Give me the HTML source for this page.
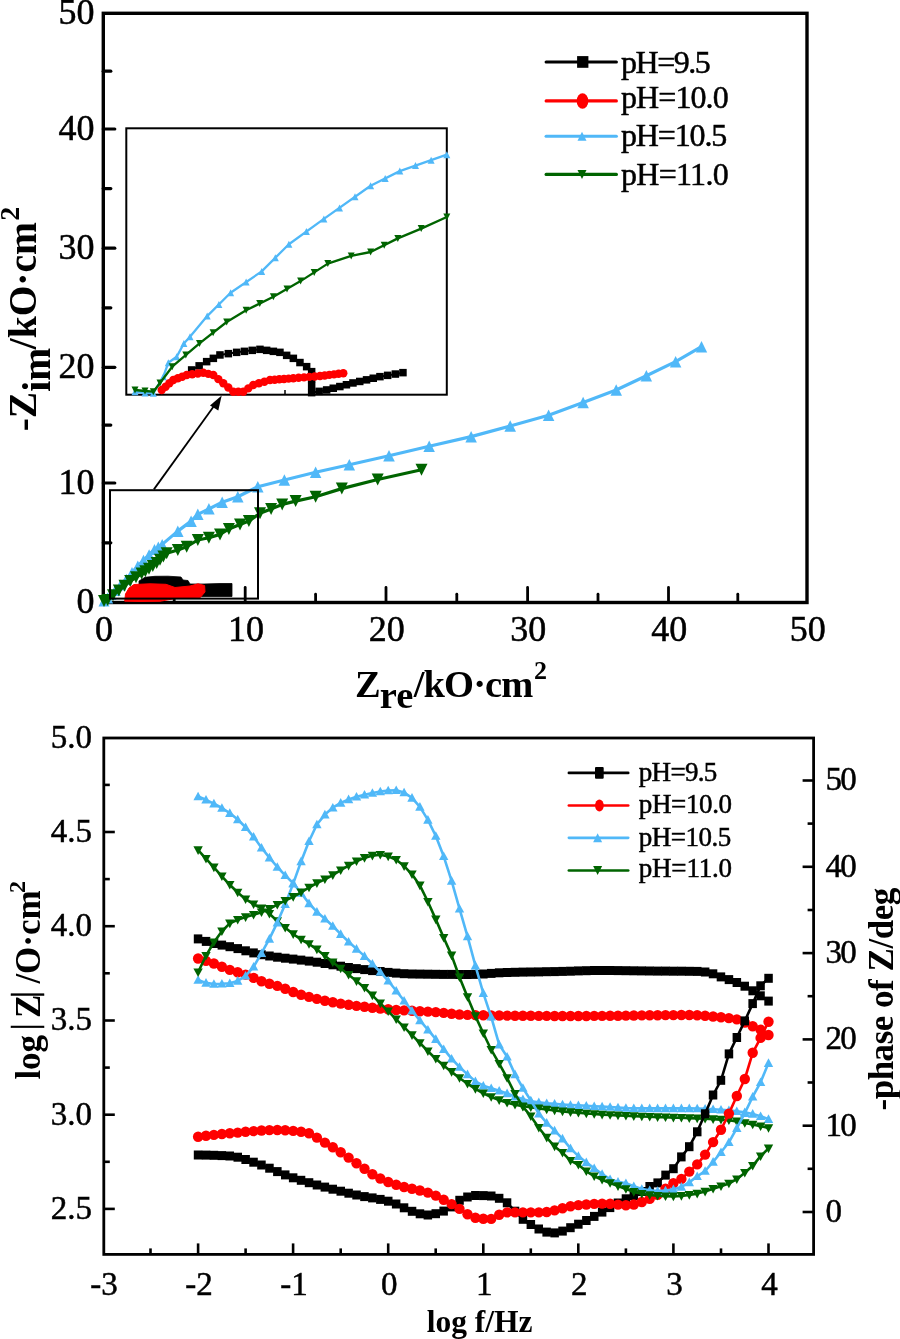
<!DOCTYPE html>
<html><head><meta charset="utf-8"><style>
html,body{margin:0;padding:0;background:#fff;width:900px;height:1339px;overflow:hidden}
svg{display:block;will-change:transform}
.s{font-family:"Liberation Serif",serif;font-weight:normal;stroke:#000;stroke-width:0.5px}
.b{font-family:"Liberation Serif",serif;font-weight:bold}
</style></head><body>
<svg width="900" height="1339" viewBox="0 0 900 1339">
<rect width="900" height="1339" fill="#fff"/>
<rect x="103.3" y="13.3" width="703.7" height="589.2" fill="none" stroke="#000" stroke-width="3.4"/>
<line x1="103.3" y1="542.8" x2="110.8" y2="542.8" stroke="#000" stroke-width="3.2" stroke-linecap="round"/>
<line x1="103.3" y1="483.0" x2="114.8" y2="483.0" stroke="#000" stroke-width="3.2" stroke-linecap="round"/>
<line x1="103.3" y1="425.1" x2="110.8" y2="425.1" stroke="#000" stroke-width="3.2" stroke-linecap="round"/>
<line x1="103.3" y1="367.3" x2="114.8" y2="367.3" stroke="#000" stroke-width="3.2" stroke-linecap="round"/>
<line x1="103.3" y1="307.8" x2="110.8" y2="307.8" stroke="#000" stroke-width="3.2" stroke-linecap="round"/>
<line x1="103.3" y1="248.2" x2="114.8" y2="248.2" stroke="#000" stroke-width="3.2" stroke-linecap="round"/>
<line x1="103.3" y1="188.6" x2="110.8" y2="188.6" stroke="#000" stroke-width="3.2" stroke-linecap="round"/>
<line x1="103.3" y1="129.0" x2="114.8" y2="129.0" stroke="#000" stroke-width="3.2" stroke-linecap="round"/>
<line x1="103.3" y1="71.2" x2="110.8" y2="71.2" stroke="#000" stroke-width="3.2" stroke-linecap="round"/>
<line x1="174.2" y1="602.5" x2="174.2" y2="594.2" stroke="#000" stroke-width="2.8" stroke-linecap="round"/>
<line x1="245.2" y1="602.5" x2="245.2" y2="587.5" stroke="#000" stroke-width="2.8" stroke-linecap="round"/>
<line x1="315.6" y1="602.5" x2="315.6" y2="594.2" stroke="#000" stroke-width="2.8" stroke-linecap="round"/>
<line x1="386.0" y1="602.5" x2="386.0" y2="587.5" stroke="#000" stroke-width="2.8" stroke-linecap="round"/>
<line x1="456.8" y1="602.5" x2="456.8" y2="594.2" stroke="#000" stroke-width="2.8" stroke-linecap="round"/>
<line x1="527.6" y1="602.5" x2="527.6" y2="587.5" stroke="#000" stroke-width="2.8" stroke-linecap="round"/>
<line x1="598.0" y1="602.5" x2="598.0" y2="594.2" stroke="#000" stroke-width="2.8" stroke-linecap="round"/>
<line x1="668.5" y1="602.5" x2="668.5" y2="587.5" stroke="#000" stroke-width="2.8" stroke-linecap="round"/>
<line x1="737.8" y1="602.5" x2="737.8" y2="594.2" stroke="#000" stroke-width="2.8" stroke-linecap="round"/>
<text x="94.6" y="613.3" text-anchor="end" class="s" font-size="36">0</text>
<text x="94.6" y="493.8" text-anchor="end" class="s" font-size="36">10</text>
<text x="94.6" y="378.1" text-anchor="end" class="s" font-size="36">20</text>
<text x="94.6" y="259.0" text-anchor="end" class="s" font-size="36">30</text>
<text x="94.6" y="139.8" text-anchor="end" class="s" font-size="36">40</text>
<text x="94.6" y="24.1" text-anchor="end" class="s" font-size="36">50</text>
<text x="104.0" y="641.3" text-anchor="middle" class="s" font-size="36">0</text>
<text x="245.9" y="641.3" text-anchor="middle" class="s" font-size="36">10</text>
<text x="386.7" y="641.3" text-anchor="middle" class="s" font-size="36">20</text>
<text x="528.3" y="641.3" text-anchor="middle" class="s" font-size="36">30</text>
<text x="669.2" y="641.3" text-anchor="middle" class="s" font-size="36">40</text>
<text x="807.7" y="641.3" text-anchor="middle" class="s" font-size="36">50</text>
<text transform="translate(35.8,431.3) rotate(-90)" class="b" font-size="39.5"><tspan x="0" y="0">-Z</tspan><tspan x="39.6" y="13.9">im</tspan><tspan x="82" y="0">/kO·cm</tspan><tspan x="210.5" y="-16.8" font-size="28">2</tspan></text>
<text class="b" font-size="38.5"><tspan x="354.9" y="697.2">Z</tspan><tspan x="379.8" y="707.8">re</tspan><tspan x="413.8" y="697.2" letter-spacing="-0.9">/kO·cm</tspan><tspan x="533.9" y="679.3" font-size="26">2</tspan></text>
<path d="M104.0,601.0 L107.6,598.1 L111.0,594.5 L115.1,590.6 L120.5,585.0 L126.4,579.2 L132.0,572.5 L137.8,566.0 L143.5,560.3 L149.1,554.7 L154.5,549.5 L162.2,544.4 L177.8,531.1 L191.1,521.1 L197.8,514.4 L208.9,508.9 L222.2,502.2 L237.8,496.7 L257.8,486.7 L284.4,480.0 L315.6,472.2 L349.3,464.8 L389.0,455.7 L429.2,446.2 L471.1,436.6 L510.2,426.0 L548.6,415.3 L583.1,402.5 L616.2,390.0 L646.4,375.8 L675.6,361.6 L701.5,346.7" fill="none" stroke="#50b8f8" stroke-width="3.2" stroke-linejoin="round" stroke-linecap="round" />
<path d="M104.0,595.5 L109.5,606.5 L98.5,606.5Z" fill="#50b8f8"/>
<path d="M107.6,592.6 L113.1,603.6 L102.1,603.6Z" fill="#50b8f8"/>
<path d="M111.0,589.0 L116.5,600.0 L105.5,600.0Z" fill="#50b8f8"/>
<path d="M115.1,585.1 L120.6,596.1 L109.6,596.1Z" fill="#50b8f8"/>
<path d="M120.5,579.5 L126.0,590.5 L115.0,590.5Z" fill="#50b8f8"/>
<path d="M126.4,573.7 L131.9,584.7 L120.9,584.7Z" fill="#50b8f8"/>
<path d="M132.0,567.0 L137.5,578.0 L126.5,578.0Z" fill="#50b8f8"/>
<path d="M137.8,560.5 L143.3,571.5 L132.3,571.5Z" fill="#50b8f8"/>
<path d="M143.5,554.8 L149.0,565.8 L138.0,565.8Z" fill="#50b8f8"/>
<path d="M149.1,549.2 L154.6,560.2 L143.6,560.2Z" fill="#50b8f8"/>
<path d="M154.5,544.0 L160.0,555.0 L149.0,555.0Z" fill="#50b8f8"/>
<path d="M158.3,541.5 L163.8,552.5 L152.8,552.5Z" fill="#50b8f8"/>
<path d="M162.2,538.9 L167.7,549.9 L156.7,549.9Z" fill="#50b8f8"/>
<path d="M177.8,525.4 L183.6,536.9 L172.1,536.9Z" fill="#50b8f8"/>
<path d="M191.1,515.4 L196.8,526.9 L185.3,526.9Z" fill="#50b8f8"/>
<path d="M197.8,508.6 L203.6,520.1 L192.1,520.1Z" fill="#50b8f8"/>
<path d="M208.9,503.1 L214.7,514.6 L203.2,514.6Z" fill="#50b8f8"/>
<path d="M222.2,496.4 L227.9,507.9 L216.4,507.9Z" fill="#50b8f8"/>
<path d="M237.8,490.9 L243.6,502.4 L232.1,502.4Z" fill="#50b8f8"/>
<path d="M257.8,480.9 L263.6,492.4 L252.1,492.4Z" fill="#50b8f8"/>
<path d="M284.4,474.2 L290.1,485.8 L278.6,485.8Z" fill="#50b8f8"/>
<path d="M315.6,466.4 L321.4,477.9 L309.9,477.9Z" fill="#50b8f8"/>
<path d="M349.3,459.1 L355.1,470.6 L343.6,470.6Z" fill="#50b8f8"/>
<path d="M389.0,449.9 L394.8,461.4 L383.2,461.4Z" fill="#50b8f8"/>
<path d="M429.2,440.4 L434.9,451.9 L423.4,451.9Z" fill="#50b8f8"/>
<path d="M471.1,430.9 L476.9,442.4 L465.4,442.4Z" fill="#50b8f8"/>
<path d="M510.2,420.2 L516.0,431.8 L504.4,431.8Z" fill="#50b8f8"/>
<path d="M548.6,409.6 L554.4,421.1 L542.9,421.1Z" fill="#50b8f8"/>
<path d="M583.1,396.8 L588.9,408.2 L577.4,408.2Z" fill="#50b8f8"/>
<path d="M616.2,384.2 L622.0,395.8 L610.5,395.8Z" fill="#50b8f8"/>
<path d="M646.4,370.1 L652.1,381.6 L640.6,381.6Z" fill="#50b8f8"/>
<path d="M675.6,355.9 L681.4,367.4 L669.9,367.4Z" fill="#50b8f8"/>
<path d="M701.5,340.9 L707.2,352.4 L695.8,352.4Z" fill="#50b8f8"/>
<path d="M104.0,601.0 L107.6,600.0 L113.0,595.3 L118.9,590.6 L124.5,585.8 L130.2,581.1 L136.0,577.3 L141.6,573.6 L149.0,568.8 L156.7,563.0 L166.7,553.3 L177.8,550.0 L186.7,546.7 L197.8,540.0 L208.9,537.8 L220.0,534.4 L228.9,528.9 L240.0,524.4 L248.9,521.1 L260.0,513.3 L271.1,508.9 L282.2,504.4 L295.6,501.1 L315.6,496.7 L341.8,488.6 L377.7,479.5 L421.5,469.8" fill="none" stroke="#006400" stroke-width="3.2" stroke-linejoin="round" stroke-linecap="round" />
<path d="M98.0,595.0 L110.0,595.0 L104.0,607.0Z" fill="#006400"/>
<path d="M101.6,594.0 L113.6,594.0 L107.6,606.0Z" fill="#006400"/>
<path d="M107.0,589.3 L119.0,589.3 L113.0,601.3Z" fill="#006400"/>
<path d="M112.9,584.6 L124.9,584.6 L118.9,596.6Z" fill="#006400"/>
<path d="M118.5,579.8 L130.5,579.8 L124.5,591.8Z" fill="#006400"/>
<path d="M124.2,575.1 L136.2,575.1 L130.2,587.1Z" fill="#006400"/>
<path d="M130.0,571.3 L142.0,571.3 L136.0,583.3Z" fill="#006400"/>
<path d="M135.6,567.6 L147.6,567.6 L141.6,579.6Z" fill="#006400"/>
<path d="M139.3,565.2 L151.3,565.2 L145.3,577.2Z" fill="#006400"/>
<path d="M143.0,562.8 L155.0,562.8 L149.0,574.8Z" fill="#006400"/>
<path d="M146.8,559.9 L158.8,559.9 L152.8,571.9Z" fill="#006400"/>
<path d="M150.7,557.0 L162.7,557.0 L156.7,569.0Z" fill="#006400"/>
<path d="M154.0,553.8 L166.0,553.8 L160.0,565.8Z" fill="#006400"/>
<path d="M157.4,550.5 L169.4,550.5 L163.4,562.5Z" fill="#006400"/>
<path d="M160.7,547.3 L172.7,547.3 L166.7,559.3Z" fill="#006400"/>
<path d="M171.8,544.0 L183.8,544.0 L177.8,556.0Z" fill="#006400"/>
<path d="M180.7,540.7 L192.7,540.7 L186.7,552.7Z" fill="#006400"/>
<path d="M191.8,534.0 L203.8,534.0 L197.8,546.0Z" fill="#006400"/>
<path d="M202.9,531.8 L214.9,531.8 L208.9,543.8Z" fill="#006400"/>
<path d="M214.0,528.4 L226.0,528.4 L220.0,540.4Z" fill="#006400"/>
<path d="M222.9,522.9 L234.9,522.9 L228.9,534.9Z" fill="#006400"/>
<path d="M234.0,518.4 L246.0,518.4 L240.0,530.4Z" fill="#006400"/>
<path d="M242.9,515.1 L254.9,515.1 L248.9,527.1Z" fill="#006400"/>
<path d="M254.0,507.3 L266.0,507.3 L260.0,519.3Z" fill="#006400"/>
<path d="M265.1,502.9 L277.1,502.9 L271.1,514.9Z" fill="#006400"/>
<path d="M276.2,498.4 L288.2,498.4 L282.2,510.4Z" fill="#006400"/>
<path d="M289.6,495.1 L301.6,495.1 L295.6,507.1Z" fill="#006400"/>
<path d="M309.6,490.7 L321.6,490.7 L315.6,502.7Z" fill="#006400"/>
<path d="M335.8,482.6 L347.8,482.6 L341.8,494.6Z" fill="#006400"/>
<path d="M371.7,473.5 L383.7,473.5 L377.7,485.5Z" fill="#006400"/>
<path d="M415.5,463.8 L427.5,463.8 L421.5,475.8Z" fill="#006400"/>
<path d="M139,581 L145,577.3 L155,576.3 L168,576.2 L181,577 L183,580 L188,580.5 L190,584 L204,584 L220,583.5 L232,583.5 L232,596.5 L205,596.5 L190,597 L186,590 L160,588.5 L139,588 Z" fill="#000" stroke="#000" stroke-width="0.8" stroke-linejoin="round"/>
<path d="M124.7,601.2 L125.5,594 L129,588 L134,584.5 L150,583.8 L166,584.3 L175,587.5 L190,586 L198,583.8 L204.6,585.5 L205,592 L200,597.8 L175,598.5 L160,601.3 L140,601.5 Z" fill="#f00" stroke="#f00" stroke-width="1" stroke-linejoin="round"/>
<rect x="126.3" y="128.3" width="320.5" height="266.4" fill="none" stroke="#000" stroke-width="2"/>
<line x1="285" y1="394.7" x2="285" y2="390" stroke="#000" stroke-width="1.5"/>
<rect x="110" y="490.2" width="148" height="108.4" fill="none" stroke="#000" stroke-width="2"/>
<line x1="153.9" y1="489.4" x2="214" y2="406" stroke="#000" stroke-width="1.8"/>
<path d="M221.7,395.6 L210,405.6 L218.3,410.6 Z" fill="#000"/>
<path d="M135.0,391.7 L145.0,393.0 L153.3,393.3 L163.3,376.7 L168.3,362.8 L176.7,356.7 L183.9,343.4 L190.0,336.7 L207.2,316.1 L230.6,292.8 L261.7,271.4 L288.9,244.2 L323.9,218.9 L370.6,185.8 L399.8,171.1 L446.8,154.7" fill="none" stroke="#50b8f8" stroke-width="2.3" stroke-linejoin="round" stroke-linecap="round" />
<path d="M135.0,388.2 L138.5,395.2 L131.5,395.2Z" fill="#50b8f8"/>
<path d="M145.0,389.5 L148.5,396.5 L141.5,396.5Z" fill="#50b8f8"/>
<path d="M153.3,389.8 L156.8,396.8 L149.8,396.8Z" fill="#50b8f8"/>
<path d="M163.3,373.2 L166.8,380.2 L159.8,380.2Z" fill="#50b8f8"/>
<path d="M168.3,359.3 L171.8,366.3 L164.8,366.3Z" fill="#50b8f8"/>
<path d="M176.7,353.2 L180.2,360.2 L173.2,360.2Z" fill="#50b8f8"/>
<path d="M183.9,339.9 L187.4,346.9 L180.4,346.9Z" fill="#50b8f8"/>
<path d="M190.0,333.2 L193.5,340.2 L186.5,340.2Z" fill="#50b8f8"/>
<path d="M207.2,312.6 L210.7,319.6 L203.7,319.6Z" fill="#50b8f8"/>
<path d="M218.9,301.0 L222.4,308.0 L215.4,308.0Z" fill="#50b8f8"/>
<path d="M230.6,289.3 L234.1,296.3 L227.1,296.3Z" fill="#50b8f8"/>
<path d="M246.1,278.6 L249.6,285.6 L242.6,285.6Z" fill="#50b8f8"/>
<path d="M261.7,267.9 L265.2,274.9 L258.2,274.9Z" fill="#50b8f8"/>
<path d="M275.3,254.3 L278.8,261.3 L271.8,261.3Z" fill="#50b8f8"/>
<path d="M288.9,240.7 L292.4,247.7 L285.4,247.7Z" fill="#50b8f8"/>
<path d="M306.4,228.1 L309.9,235.1 L302.9,235.1Z" fill="#50b8f8"/>
<path d="M323.9,215.4 L327.4,222.4 L320.4,222.4Z" fill="#50b8f8"/>
<path d="M339.5,204.4 L343.0,211.4 L336.0,211.4Z" fill="#50b8f8"/>
<path d="M355.0,193.3 L358.5,200.3 L351.5,200.3Z" fill="#50b8f8"/>
<path d="M370.6,182.3 L374.1,189.3 L367.1,189.3Z" fill="#50b8f8"/>
<path d="M385.2,174.9 L388.7,181.9 L381.7,181.9Z" fill="#50b8f8"/>
<path d="M399.8,167.6 L403.3,174.6 L396.3,174.6Z" fill="#50b8f8"/>
<path d="M415.5,162.1 L419.0,169.1 L412.0,169.1Z" fill="#50b8f8"/>
<path d="M431.1,156.7 L434.6,163.7 L427.6,163.7Z" fill="#50b8f8"/>
<path d="M446.8,151.2 L450.3,158.2 L443.3,158.2Z" fill="#50b8f8"/>
<path d="M135.0,390.0 L145.0,391.0 L153.3,391.7 L160.0,383.0 L172.2,366.7 L199.5,343.4 L226.7,322.0 L246.1,310.3 L273.4,296.7 L300.6,281.1 L327.8,263.6 L351.2,255.9 L370.6,252.0 L397.8,238.4 L421.2,228.6 L446.8,217.0" fill="none" stroke="#006400" stroke-width="2.3" stroke-linejoin="round" stroke-linecap="round" />
<path d="M131.5,386.5 L138.5,386.5 L135.0,393.5Z" fill="#006400"/>
<path d="M141.5,387.5 L148.5,387.5 L145.0,394.5Z" fill="#006400"/>
<path d="M149.8,388.2 L156.8,388.2 L153.3,395.2Z" fill="#006400"/>
<path d="M156.5,379.5 L163.5,379.5 L160.0,386.5Z" fill="#006400"/>
<path d="M168.7,363.2 L175.7,363.2 L172.2,370.2Z" fill="#006400"/>
<path d="M182.3,351.5 L189.3,351.5 L185.8,358.5Z" fill="#006400"/>
<path d="M196.0,339.9 L203.0,339.9 L199.5,346.9Z" fill="#006400"/>
<path d="M209.6,329.2 L216.6,329.2 L213.1,336.2Z" fill="#006400"/>
<path d="M223.2,318.5 L230.2,318.5 L226.7,325.5Z" fill="#006400"/>
<path d="M242.6,306.8 L249.6,306.8 L246.1,313.8Z" fill="#006400"/>
<path d="M256.2,300.0 L263.2,300.0 L259.8,307.0Z" fill="#006400"/>
<path d="M269.9,293.2 L276.9,293.2 L273.4,300.2Z" fill="#006400"/>
<path d="M283.5,285.4 L290.5,285.4 L287.0,292.4Z" fill="#006400"/>
<path d="M297.1,277.6 L304.1,277.6 L300.6,284.6Z" fill="#006400"/>
<path d="M310.7,268.9 L317.7,268.9 L314.2,275.9Z" fill="#006400"/>
<path d="M324.3,260.1 L331.3,260.1 L327.8,267.1Z" fill="#006400"/>
<path d="M347.7,252.4 L354.7,252.4 L351.2,259.4Z" fill="#006400"/>
<path d="M367.1,248.5 L374.1,248.5 L370.6,255.5Z" fill="#006400"/>
<path d="M380.7,241.7 L387.7,241.7 L384.2,248.7Z" fill="#006400"/>
<path d="M394.3,234.9 L401.3,234.9 L397.8,241.9Z" fill="#006400"/>
<path d="M417.7,225.1 L424.7,225.1 L421.2,232.1Z" fill="#006400"/>
<path d="M443.3,213.5 L450.3,213.5 L446.8,220.5Z" fill="#006400"/>
<path d="M191.7,370.0 L206.7,361.7 L220.0,355.0 L236.7,352.3 L260.0,349.3 L280.0,352.3 L293.3,358.3 L306.7,366.7 L311.7,371.7 L311.7,392.7 L326.7,390.0 L353.0,383.0 L380.0,376.7 L403.0,372.7" fill="none" stroke="#000000" stroke-width="2" stroke-linejoin="round" stroke-linecap="round" />
<rect x="187.9" y="366.2" width="7.5" height="7.5" fill="#000000"/>
<rect x="195.4" y="362.1" width="7.5" height="7.5" fill="#000000"/>
<rect x="202.9" y="357.9" width="7.5" height="7.5" fill="#000000"/>
<rect x="209.6" y="354.6" width="7.5" height="7.5" fill="#000000"/>
<rect x="216.2" y="351.2" width="7.5" height="7.5" fill="#000000"/>
<rect x="224.6" y="349.9" width="7.5" height="7.5" fill="#000000"/>
<rect x="232.9" y="348.6" width="7.5" height="7.5" fill="#000000"/>
<rect x="240.7" y="347.6" width="7.5" height="7.5" fill="#000000"/>
<rect x="248.5" y="346.6" width="7.5" height="7.5" fill="#000000"/>
<rect x="256.2" y="345.6" width="7.5" height="7.5" fill="#000000"/>
<rect x="262.9" y="346.6" width="7.5" height="7.5" fill="#000000"/>
<rect x="269.6" y="347.6" width="7.5" height="7.5" fill="#000000"/>
<rect x="276.2" y="348.6" width="7.5" height="7.5" fill="#000000"/>
<rect x="282.9" y="351.6" width="7.5" height="7.5" fill="#000000"/>
<rect x="289.6" y="354.6" width="7.5" height="7.5" fill="#000000"/>
<rect x="296.2" y="358.8" width="7.5" height="7.5" fill="#000000"/>
<rect x="302.9" y="362.9" width="7.5" height="7.5" fill="#000000"/>
<rect x="307.9" y="367.9" width="7.5" height="7.5" fill="#000000"/>
<rect x="307.9" y="374.9" width="7.5" height="7.5" fill="#000000"/>
<rect x="307.9" y="381.9" width="7.5" height="7.5" fill="#000000"/>
<rect x="307.9" y="388.9" width="7.5" height="7.5" fill="#000000"/>
<rect x="315.4" y="387.6" width="7.5" height="7.5" fill="#000000"/>
<rect x="322.9" y="386.2" width="7.5" height="7.5" fill="#000000"/>
<rect x="329.5" y="384.5" width="7.5" height="7.5" fill="#000000"/>
<rect x="336.1" y="382.8" width="7.5" height="7.5" fill="#000000"/>
<rect x="342.7" y="381.0" width="7.5" height="7.5" fill="#000000"/>
<rect x="349.2" y="379.2" width="7.5" height="7.5" fill="#000000"/>
<rect x="356.0" y="377.7" width="7.5" height="7.5" fill="#000000"/>
<rect x="362.8" y="376.1" width="7.5" height="7.5" fill="#000000"/>
<rect x="369.5" y="374.5" width="7.5" height="7.5" fill="#000000"/>
<rect x="376.2" y="372.9" width="7.5" height="7.5" fill="#000000"/>
<rect x="383.9" y="371.6" width="7.5" height="7.5" fill="#000000"/>
<rect x="391.6" y="370.3" width="7.5" height="7.5" fill="#000000"/>
<rect x="399.2" y="368.9" width="7.5" height="7.5" fill="#000000"/>
<path d="M161.7,390.0 L173.3,380.0 L186.7,375.0 L203.3,372.7 L213.3,375.0 L223.3,383.3 L233.3,391.7 L243.3,391.7 L253.3,385.0 L270.0,380.0 L293.3,378.3 L320.0,376.0 L343.3,373.3" fill="none" stroke="#ff0000" stroke-width="2" stroke-linejoin="round" stroke-linecap="round" />
<circle cx="161.7" cy="390.0" r="4.2" fill="#ff0000"/>
<circle cx="165.6" cy="386.7" r="4.2" fill="#ff0000"/>
<circle cx="169.4" cy="383.3" r="4.2" fill="#ff0000"/>
<circle cx="173.3" cy="380.0" r="4.2" fill="#ff0000"/>
<circle cx="177.8" cy="378.3" r="4.2" fill="#ff0000"/>
<circle cx="182.2" cy="376.7" r="4.2" fill="#ff0000"/>
<circle cx="186.7" cy="375.0" r="4.2" fill="#ff0000"/>
<circle cx="192.2" cy="374.2" r="4.2" fill="#ff0000"/>
<circle cx="197.8" cy="373.5" r="4.2" fill="#ff0000"/>
<circle cx="203.3" cy="372.7" r="4.2" fill="#ff0000"/>
<circle cx="208.3" cy="373.9" r="4.2" fill="#ff0000"/>
<circle cx="213.3" cy="375.0" r="4.2" fill="#ff0000"/>
<circle cx="218.3" cy="379.1" r="4.2" fill="#ff0000"/>
<circle cx="223.3" cy="383.3" r="4.2" fill="#ff0000"/>
<circle cx="228.3" cy="387.5" r="4.2" fill="#ff0000"/>
<circle cx="233.3" cy="391.7" r="4.2" fill="#ff0000"/>
<circle cx="238.3" cy="391.7" r="4.2" fill="#ff0000"/>
<circle cx="243.3" cy="391.7" r="4.2" fill="#ff0000"/>
<circle cx="248.3" cy="388.4" r="4.2" fill="#ff0000"/>
<circle cx="253.3" cy="385.0" r="4.2" fill="#ff0000"/>
<circle cx="258.9" cy="383.3" r="4.2" fill="#ff0000"/>
<circle cx="264.4" cy="381.7" r="4.2" fill="#ff0000"/>
<circle cx="270.0" cy="380.0" r="4.2" fill="#ff0000"/>
<circle cx="274.7" cy="379.7" r="4.2" fill="#ff0000"/>
<circle cx="279.3" cy="379.3" r="4.2" fill="#ff0000"/>
<circle cx="284.0" cy="379.0" r="4.2" fill="#ff0000"/>
<circle cx="288.6" cy="378.6" r="4.2" fill="#ff0000"/>
<circle cx="293.3" cy="378.3" r="4.2" fill="#ff0000"/>
<circle cx="298.6" cy="377.8" r="4.2" fill="#ff0000"/>
<circle cx="304.0" cy="377.4" r="4.2" fill="#ff0000"/>
<circle cx="309.3" cy="376.9" r="4.2" fill="#ff0000"/>
<circle cx="314.7" cy="376.5" r="4.2" fill="#ff0000"/>
<circle cx="320.0" cy="376.0" r="4.2" fill="#ff0000"/>
<circle cx="324.7" cy="375.5" r="4.2" fill="#ff0000"/>
<circle cx="329.3" cy="374.9" r="4.2" fill="#ff0000"/>
<circle cx="334.0" cy="374.4" r="4.2" fill="#ff0000"/>
<circle cx="338.6" cy="373.8" r="4.2" fill="#ff0000"/>
<circle cx="343.3" cy="373.3" r="4.2" fill="#ff0000"/>
<line x1="546.1" y1="62.0" x2="616.4" y2="62.0" stroke="#000000" stroke-width="3.1" stroke-linecap="round"/>
<rect x="577.1" y="56.1" width="11.3" height="11.7" fill="#000000"/>
<text x="621" y="72.7" class="s" font-size="32" textLength="89.8" lengthAdjust="spacing">pH=9.5</text>
<line x1="546.1" y1="100.9" x2="616.4" y2="100.9" stroke="#ff0000" stroke-width="3.1" stroke-linecap="round"/>
<ellipse cx="582.5" cy="100.9" rx="5.85" ry="7.75" fill="#ff0000"/>
<text x="621" y="107.7" class="s" font-size="32" textLength="107.7" lengthAdjust="spacing">pH=10.0</text>
<line x1="546.1" y1="136.3" x2="616.4" y2="136.3" stroke="#50b8f8" stroke-width="3.1" stroke-linecap="round"/>
<path d="M582.0,131.8 L586.5,140.8 L577.5,140.8Z" fill="#50b8f8"/>
<text x="621" y="146.3" class="s" font-size="32" textLength="106.3" lengthAdjust="spacing">pH=10.5</text>
<line x1="546.1" y1="174.4" x2="616.4" y2="174.4" stroke="#006400" stroke-width="3.1" stroke-linecap="round"/>
<path d="M577.5,169.9 L586.5,169.9 L582.0,178.9Z" fill="#006400"/>
<text x="621" y="184.7" class="s" font-size="32" textLength="107.7" lengthAdjust="spacing">pH=11.0</text>
<rect x="103.8" y="738.0" width="709.8000000000001" height="516.4000000000001" fill="none" stroke="#000" stroke-width="2.8"/>
<line x1="103.8" y1="1208.9" x2="114.8" y2="1208.9" stroke="#000" stroke-width="2.6"/>
<line x1="103.8" y1="1161.8" x2="109.8" y2="1161.8" stroke="#000" stroke-width="2.6"/>
<line x1="103.8" y1="1114.7" x2="114.8" y2="1114.7" stroke="#000" stroke-width="2.6"/>
<line x1="103.8" y1="1067.6" x2="109.8" y2="1067.6" stroke="#000" stroke-width="2.6"/>
<line x1="103.8" y1="1020.5" x2="114.8" y2="1020.5" stroke="#000" stroke-width="2.6"/>
<line x1="103.8" y1="973.3" x2="109.8" y2="973.3" stroke="#000" stroke-width="2.6"/>
<line x1="103.8" y1="926.2" x2="114.8" y2="926.2" stroke="#000" stroke-width="2.6"/>
<line x1="103.8" y1="879.1" x2="109.8" y2="879.1" stroke="#000" stroke-width="2.6"/>
<line x1="103.8" y1="832.0" x2="114.8" y2="832.0" stroke="#000" stroke-width="2.6"/>
<line x1="103.8" y1="784.9" x2="109.8" y2="784.9" stroke="#000" stroke-width="2.6"/>
<line x1="813.6" y1="1212.0" x2="802.6" y2="1212.0" stroke="#000" stroke-width="2.6"/>
<line x1="813.6" y1="1168.8" x2="807.6" y2="1168.8" stroke="#000" stroke-width="2.6"/>
<line x1="813.6" y1="1125.7" x2="802.6" y2="1125.7" stroke="#000" stroke-width="2.6"/>
<line x1="813.6" y1="1082.5" x2="807.6" y2="1082.5" stroke="#000" stroke-width="2.6"/>
<line x1="813.6" y1="1039.4" x2="802.6" y2="1039.4" stroke="#000" stroke-width="2.6"/>
<line x1="813.6" y1="996.2" x2="807.6" y2="996.2" stroke="#000" stroke-width="2.6"/>
<line x1="813.6" y1="953.1" x2="802.6" y2="953.1" stroke="#000" stroke-width="2.6"/>
<line x1="813.6" y1="910.0" x2="807.6" y2="910.0" stroke="#000" stroke-width="2.6"/>
<line x1="813.6" y1="866.8" x2="802.6" y2="866.8" stroke="#000" stroke-width="2.6"/>
<line x1="813.6" y1="823.6" x2="807.6" y2="823.6" stroke="#000" stroke-width="2.6"/>
<line x1="813.6" y1="780.5" x2="802.6" y2="780.5" stroke="#000" stroke-width="2.6"/>
<line x1="150.5" y1="1254.4" x2="150.5" y2="1248.4" stroke="#000" stroke-width="2.6"/>
<line x1="198.1" y1="1254.4" x2="198.1" y2="1243.4" stroke="#000" stroke-width="2.6"/>
<line x1="245.6" y1="1254.4" x2="245.6" y2="1248.4" stroke="#000" stroke-width="2.6"/>
<line x1="293.1" y1="1254.4" x2="293.1" y2="1243.4" stroke="#000" stroke-width="2.6"/>
<line x1="340.7" y1="1254.4" x2="340.7" y2="1248.4" stroke="#000" stroke-width="2.6"/>
<line x1="388.2" y1="1254.4" x2="388.2" y2="1243.4" stroke="#000" stroke-width="2.6"/>
<line x1="435.7" y1="1254.4" x2="435.7" y2="1248.4" stroke="#000" stroke-width="2.6"/>
<line x1="483.3" y1="1254.4" x2="483.3" y2="1243.4" stroke="#000" stroke-width="2.6"/>
<line x1="530.8" y1="1254.4" x2="530.8" y2="1248.4" stroke="#000" stroke-width="2.6"/>
<line x1="578.3" y1="1254.4" x2="578.3" y2="1243.4" stroke="#000" stroke-width="2.6"/>
<line x1="625.9" y1="1254.4" x2="625.9" y2="1248.4" stroke="#000" stroke-width="2.6"/>
<line x1="673.4" y1="1254.4" x2="673.4" y2="1243.4" stroke="#000" stroke-width="2.6"/>
<line x1="721.0" y1="1254.4" x2="721.0" y2="1248.4" stroke="#000" stroke-width="2.6"/>
<line x1="768.5" y1="1254.4" x2="768.5" y2="1243.4" stroke="#000" stroke-width="2.6"/>
<text x="92" y="1218.7" text-anchor="end" class="s" font-size="33">2.5</text>
<text x="92" y="1124.5" text-anchor="end" class="s" font-size="33">3.0</text>
<text x="92" y="1030.3" text-anchor="end" class="s" font-size="33">3.5</text>
<text x="92" y="936.0" text-anchor="end" class="s" font-size="33">4.0</text>
<text x="92" y="841.8" text-anchor="end" class="s" font-size="33">4.5</text>
<text x="92" y="747.6" text-anchor="end" class="s" font-size="33">5.0</text>
<text x="825.5" y="1221.8" class="s" font-size="33" letter-spacing="-1.8">0</text>
<text x="825.5" y="1135.5" class="s" font-size="33" letter-spacing="-1.8">10</text>
<text x="825.5" y="1049.2" class="s" font-size="33" letter-spacing="-1.8">20</text>
<text x="825.5" y="962.9" class="s" font-size="33" letter-spacing="-1.8">30</text>
<text x="825.5" y="876.6" class="s" font-size="33" letter-spacing="-1.8">40</text>
<text x="825.5" y="790.3" class="s" font-size="33" letter-spacing="-1.8">50</text>
<text x="104.0" y="1294.5" text-anchor="middle" class="s" font-size="33">-3</text>
<text x="199.1" y="1294.5" text-anchor="middle" class="s" font-size="33">-2</text>
<text x="294.1" y="1294.5" text-anchor="middle" class="s" font-size="33">-1</text>
<text x="389.2" y="1294.5" text-anchor="middle" class="s" font-size="33">0</text>
<text x="484.3" y="1294.5" text-anchor="middle" class="s" font-size="33">1</text>
<text x="579.3" y="1294.5" text-anchor="middle" class="s" font-size="33">2</text>
<text x="674.4" y="1294.5" text-anchor="middle" class="s" font-size="33">3</text>
<text x="769.5" y="1294.5" text-anchor="middle" class="s" font-size="33">4</text>
<text transform="translate(39.5,1079.6) rotate(-90)" class="b" font-size="35"><tspan x="0" y="0">log</tspan><tspan class="s" x="49.4" y="-4">|</tspan><tspan x="61.5" y="0">Z</tspan><tspan class="s" x="81.6" y="-4">|</tspan><tspan x="96" y="0">/O·cm</tspan><tspan x="186.6" y="-14.4" font-size="24">2</tspan></text>
<text transform="translate(892.7,1110.5) rotate(-90)" class="b" font-size="35" textLength="222.7" lengthAdjust="spacing">-phase of Z/deg</text>
<text x="426.7" y="1332" class="b" font-size="31.5">log f/Hz</text>
<line x1="568.9" y1="772.9" x2="628.2" y2="772.9" stroke="#000000" stroke-width="2.7" stroke-linecap="round"/>
<rect x="595" y="767.0" width="8.7" height="11.7" rx="1" fill="#000000"/>
<text x="638.8" y="780.7" class="s" font-size="27" textLength="78.5" lengthAdjust="spacing">pH=9.5</text>
<line x1="568.9" y1="805.5" x2="628.2" y2="805.5" stroke="#ff0000" stroke-width="2.7" stroke-linecap="round"/>
<ellipse cx="599.4" cy="805.5" rx="4.35" ry="5.95" fill="#ff0000"/>
<text x="638.8" y="812.5" class="s" font-size="27" textLength="93.2" lengthAdjust="spacing">pH=10.0</text>
<line x1="568.9" y1="837.8" x2="628.2" y2="837.8" stroke="#50b8f8" stroke-width="2.7" stroke-linecap="round"/>
<path d="M597.6,833.3 L602.1,842.3 L593.1,842.3Z" fill="#50b8f8"/>
<text x="638.8" y="845.5" class="s" font-size="27" textLength="92.5" lengthAdjust="spacing">pH=10.5</text>
<line x1="568.9" y1="870.5" x2="628.2" y2="870.5" stroke="#006400" stroke-width="2.7" stroke-linecap="round"/>
<path d="M593.1,866.0 L602.1,866.0 L597.6,875.0Z" fill="#006400"/>
<text x="638.8" y="877.2" class="s" font-size="27" textLength="93.2" lengthAdjust="spacing">pH=11.0</text>
<path d="M198.1,938.9 L206.0,941.4 L213.9,943.5 L221.9,945.1 L229.8,946.7 L237.7,948.6 L245.6,950.8 L253.6,952.9 L261.5,954.7 L269.4,956.0 L277.3,957.2 L285.2,958.2 L293.2,959.1 L301.1,960.1 L309.0,961.1 L316.9,962.2 L324.9,963.5 L332.8,964.8 L340.7,966.2 L348.6,967.5 L356.5,968.6 L364.5,969.6 L372.4,970.6 L380.3,971.5 L388.2,972.4 L396.2,973.1 L404.1,973.7 L412.0,974.0 L419.9,974.1 L427.9,974.2 L435.8,974.3 L443.7,974.4 L451.6,974.4 L459.5,974.5 L467.5,974.5 L475.4,974.4 L483.3,974.0 L491.2,973.4 L499.2,972.8 L507.1,972.5 L515.0,972.3 L522.9,972.1 L530.8,972.0 L538.8,971.9 L546.7,971.7 L554.6,971.6 L562.5,971.4 L570.5,971.2 L578.4,970.9 L586.3,970.7 L594.2,970.5 L602.1,970.5 L610.1,970.5 L618.0,970.6 L625.9,970.7 L633.8,970.8 L641.8,970.9 L649.7,971.0 L657.6,971.1 L665.5,971.1 L673.4,971.2 L681.4,971.2 L689.3,971.3 L697.2,971.4 L705.1,972.0 L713.1,973.8 L721.0,976.9 L728.9,979.6 L736.8,982.5 L744.8,986.2 L752.7,990.8 L760.6,995.8 L768.5,1001.1" fill="none" stroke="#000000" stroke-width="2.6" stroke-linejoin="round" stroke-linecap="round" />
<rect x="193.8" y="934.4" width="8.5" height="9" fill="#000000"/>
<rect x="201.8" y="936.9" width="8.5" height="9" fill="#000000"/>
<rect x="209.7" y="939.0" width="8.5" height="9" fill="#000000"/>
<rect x="217.6" y="940.6" width="8.5" height="9" fill="#000000"/>
<rect x="225.5" y="942.2" width="8.5" height="9" fill="#000000"/>
<rect x="233.5" y="944.1" width="8.5" height="9" fill="#000000"/>
<rect x="241.4" y="946.3" width="8.5" height="9" fill="#000000"/>
<rect x="249.3" y="948.4" width="8.5" height="9" fill="#000000"/>
<rect x="257.2" y="950.2" width="8.5" height="9" fill="#000000"/>
<rect x="265.2" y="951.5" width="8.5" height="9" fill="#000000"/>
<rect x="273.1" y="952.7" width="8.5" height="9" fill="#000000"/>
<rect x="281.0" y="953.7" width="8.5" height="9" fill="#000000"/>
<rect x="288.9" y="954.6" width="8.5" height="9" fill="#000000"/>
<rect x="296.8" y="955.6" width="8.5" height="9" fill="#000000"/>
<rect x="304.8" y="956.6" width="8.5" height="9" fill="#000000"/>
<rect x="312.7" y="957.7" width="8.5" height="9" fill="#000000"/>
<rect x="320.6" y="959.0" width="8.5" height="9" fill="#000000"/>
<rect x="328.5" y="960.3" width="8.5" height="9" fill="#000000"/>
<rect x="336.5" y="961.7" width="8.5" height="9" fill="#000000"/>
<rect x="344.4" y="963.0" width="8.5" height="9" fill="#000000"/>
<rect x="352.3" y="964.1" width="8.5" height="9" fill="#000000"/>
<rect x="360.2" y="965.1" width="8.5" height="9" fill="#000000"/>
<rect x="368.1" y="966.1" width="8.5" height="9" fill="#000000"/>
<rect x="376.1" y="967.0" width="8.5" height="9" fill="#000000"/>
<rect x="384.0" y="967.9" width="8.5" height="9" fill="#000000"/>
<rect x="391.9" y="968.6" width="8.5" height="9" fill="#000000"/>
<rect x="399.8" y="969.2" width="8.5" height="9" fill="#000000"/>
<rect x="407.8" y="969.5" width="8.5" height="9" fill="#000000"/>
<rect x="415.7" y="969.6" width="8.5" height="9" fill="#000000"/>
<rect x="423.6" y="969.7" width="8.5" height="9" fill="#000000"/>
<rect x="431.5" y="969.8" width="8.5" height="9" fill="#000000"/>
<rect x="439.4" y="969.9" width="8.5" height="9" fill="#000000"/>
<rect x="447.4" y="969.9" width="8.5" height="9" fill="#000000"/>
<rect x="455.3" y="970.0" width="8.5" height="9" fill="#000000"/>
<rect x="463.2" y="970.0" width="8.5" height="9" fill="#000000"/>
<rect x="471.1" y="969.9" width="8.5" height="9" fill="#000000"/>
<rect x="479.1" y="969.5" width="8.5" height="9" fill="#000000"/>
<rect x="487.0" y="968.9" width="8.5" height="9" fill="#000000"/>
<rect x="494.9" y="968.3" width="8.5" height="9" fill="#000000"/>
<rect x="502.8" y="968.0" width="8.5" height="9" fill="#000000"/>
<rect x="510.8" y="967.8" width="8.5" height="9" fill="#000000"/>
<rect x="518.7" y="967.6" width="8.5" height="9" fill="#000000"/>
<rect x="526.6" y="967.5" width="8.5" height="9" fill="#000000"/>
<rect x="534.5" y="967.4" width="8.5" height="9" fill="#000000"/>
<rect x="542.4" y="967.2" width="8.5" height="9" fill="#000000"/>
<rect x="550.4" y="967.1" width="8.5" height="9" fill="#000000"/>
<rect x="558.3" y="966.9" width="8.5" height="9" fill="#000000"/>
<rect x="566.2" y="966.7" width="8.5" height="9" fill="#000000"/>
<rect x="574.1" y="966.4" width="8.5" height="9" fill="#000000"/>
<rect x="582.1" y="966.2" width="8.5" height="9" fill="#000000"/>
<rect x="590.0" y="966.0" width="8.5" height="9" fill="#000000"/>
<rect x="597.9" y="966.0" width="8.5" height="9" fill="#000000"/>
<rect x="605.8" y="966.0" width="8.5" height="9" fill="#000000"/>
<rect x="613.7" y="966.1" width="8.5" height="9" fill="#000000"/>
<rect x="621.7" y="966.2" width="8.5" height="9" fill="#000000"/>
<rect x="629.6" y="966.3" width="8.5" height="9" fill="#000000"/>
<rect x="637.5" y="966.4" width="8.5" height="9" fill="#000000"/>
<rect x="645.4" y="966.5" width="8.5" height="9" fill="#000000"/>
<rect x="653.4" y="966.6" width="8.5" height="9" fill="#000000"/>
<rect x="661.3" y="966.6" width="8.5" height="9" fill="#000000"/>
<rect x="669.2" y="966.7" width="8.5" height="9" fill="#000000"/>
<rect x="677.1" y="966.7" width="8.5" height="9" fill="#000000"/>
<rect x="685.0" y="966.8" width="8.5" height="9" fill="#000000"/>
<rect x="693.0" y="966.9" width="8.5" height="9" fill="#000000"/>
<rect x="700.9" y="967.5" width="8.5" height="9" fill="#000000"/>
<rect x="708.8" y="969.3" width="8.5" height="9" fill="#000000"/>
<rect x="716.7" y="972.4" width="8.5" height="9" fill="#000000"/>
<rect x="724.7" y="975.1" width="8.5" height="9" fill="#000000"/>
<rect x="732.6" y="978.0" width="8.5" height="9" fill="#000000"/>
<rect x="740.5" y="981.7" width="8.5" height="9" fill="#000000"/>
<rect x="748.4" y="986.3" width="8.5" height="9" fill="#000000"/>
<rect x="756.3" y="991.3" width="8.5" height="9" fill="#000000"/>
<rect x="764.3" y="996.6" width="8.5" height="9" fill="#000000"/>
<path d="M198.1,958.5 L206.0,960.9 L213.9,963.5 L221.9,966.8 L229.8,969.9 L237.7,972.3 L245.6,974.6 L253.6,977.9 L261.5,981.3 L269.4,983.8 L277.3,985.9 L285.2,988.7 L293.2,992.0 L301.1,994.7 L309.0,996.9 L316.9,998.9 L324.9,1000.7 L332.8,1002.2 L340.7,1003.6 L348.6,1004.8 L356.5,1005.9 L364.5,1006.8 L372.4,1007.8 L380.3,1008.6 L388.2,1009.3 L396.2,1010.0 L404.1,1010.4 L412.0,1010.8 L419.9,1011.2 L427.9,1011.6 L435.8,1012.1 L443.7,1012.9 L451.6,1013.7 L459.5,1014.5 L467.5,1014.9 L475.4,1015.1 L483.3,1015.2 L491.2,1015.4 L499.2,1015.5 L507.1,1015.6 L515.0,1015.7 L522.9,1015.8 L530.8,1015.8 L538.8,1015.9 L546.7,1015.9 L554.6,1016.0 L562.5,1016.0 L570.5,1016.0 L578.4,1016.0 L586.3,1016.0 L594.2,1015.9 L602.1,1015.9 L610.1,1015.8 L618.0,1015.7 L625.9,1015.6 L633.8,1015.5 L641.8,1015.4 L649.7,1015.3 L657.6,1015.2 L665.5,1015.1 L673.4,1015.1 L681.4,1015.0 L689.3,1015.0 L697.2,1015.2 L705.1,1015.7 L713.1,1016.5 L721.0,1017.3 L728.9,1018.1 L736.8,1019.4 L744.8,1022.5 L752.7,1026.3 L760.6,1029.7 L768.5,1035.0" fill="none" stroke="#ff0000" stroke-width="2.6" stroke-linejoin="round" stroke-linecap="round" />
<circle cx="198.1" cy="958.5" r="5.2" fill="#ff0000"/>
<circle cx="206.0" cy="960.9" r="5.2" fill="#ff0000"/>
<circle cx="213.9" cy="963.5" r="5.2" fill="#ff0000"/>
<circle cx="221.9" cy="966.8" r="5.2" fill="#ff0000"/>
<circle cx="229.8" cy="969.9" r="5.2" fill="#ff0000"/>
<circle cx="237.7" cy="972.3" r="5.2" fill="#ff0000"/>
<circle cx="245.6" cy="974.6" r="5.2" fill="#ff0000"/>
<circle cx="253.6" cy="977.9" r="5.2" fill="#ff0000"/>
<circle cx="261.5" cy="981.3" r="5.2" fill="#ff0000"/>
<circle cx="269.4" cy="983.8" r="5.2" fill="#ff0000"/>
<circle cx="277.3" cy="985.9" r="5.2" fill="#ff0000"/>
<circle cx="285.2" cy="988.7" r="5.2" fill="#ff0000"/>
<circle cx="293.2" cy="992.0" r="5.2" fill="#ff0000"/>
<circle cx="301.1" cy="994.7" r="5.2" fill="#ff0000"/>
<circle cx="309.0" cy="996.9" r="5.2" fill="#ff0000"/>
<circle cx="316.9" cy="998.9" r="5.2" fill="#ff0000"/>
<circle cx="324.9" cy="1000.7" r="5.2" fill="#ff0000"/>
<circle cx="332.8" cy="1002.2" r="5.2" fill="#ff0000"/>
<circle cx="340.7" cy="1003.6" r="5.2" fill="#ff0000"/>
<circle cx="348.6" cy="1004.8" r="5.2" fill="#ff0000"/>
<circle cx="356.5" cy="1005.9" r="5.2" fill="#ff0000"/>
<circle cx="364.5" cy="1006.8" r="5.2" fill="#ff0000"/>
<circle cx="372.4" cy="1007.8" r="5.2" fill="#ff0000"/>
<circle cx="380.3" cy="1008.6" r="5.2" fill="#ff0000"/>
<circle cx="388.2" cy="1009.3" r="5.2" fill="#ff0000"/>
<circle cx="396.2" cy="1010.0" r="5.2" fill="#ff0000"/>
<circle cx="404.1" cy="1010.4" r="5.2" fill="#ff0000"/>
<circle cx="412.0" cy="1010.8" r="5.2" fill="#ff0000"/>
<circle cx="419.9" cy="1011.2" r="5.2" fill="#ff0000"/>
<circle cx="427.9" cy="1011.6" r="5.2" fill="#ff0000"/>
<circle cx="435.8" cy="1012.1" r="5.2" fill="#ff0000"/>
<circle cx="443.7" cy="1012.9" r="5.2" fill="#ff0000"/>
<circle cx="451.6" cy="1013.7" r="5.2" fill="#ff0000"/>
<circle cx="459.5" cy="1014.5" r="5.2" fill="#ff0000"/>
<circle cx="467.5" cy="1014.9" r="5.2" fill="#ff0000"/>
<circle cx="475.4" cy="1015.1" r="5.2" fill="#ff0000"/>
<circle cx="483.3" cy="1015.2" r="5.2" fill="#ff0000"/>
<circle cx="491.2" cy="1015.4" r="5.2" fill="#ff0000"/>
<circle cx="499.2" cy="1015.5" r="5.2" fill="#ff0000"/>
<circle cx="507.1" cy="1015.6" r="5.2" fill="#ff0000"/>
<circle cx="515.0" cy="1015.7" r="5.2" fill="#ff0000"/>
<circle cx="522.9" cy="1015.8" r="5.2" fill="#ff0000"/>
<circle cx="530.8" cy="1015.8" r="5.2" fill="#ff0000"/>
<circle cx="538.8" cy="1015.9" r="5.2" fill="#ff0000"/>
<circle cx="546.7" cy="1015.9" r="5.2" fill="#ff0000"/>
<circle cx="554.6" cy="1016.0" r="5.2" fill="#ff0000"/>
<circle cx="562.5" cy="1016.0" r="5.2" fill="#ff0000"/>
<circle cx="570.5" cy="1016.0" r="5.2" fill="#ff0000"/>
<circle cx="578.4" cy="1016.0" r="5.2" fill="#ff0000"/>
<circle cx="586.3" cy="1016.0" r="5.2" fill="#ff0000"/>
<circle cx="594.2" cy="1015.9" r="5.2" fill="#ff0000"/>
<circle cx="602.1" cy="1015.9" r="5.2" fill="#ff0000"/>
<circle cx="610.1" cy="1015.8" r="5.2" fill="#ff0000"/>
<circle cx="618.0" cy="1015.7" r="5.2" fill="#ff0000"/>
<circle cx="625.9" cy="1015.6" r="5.2" fill="#ff0000"/>
<circle cx="633.8" cy="1015.5" r="5.2" fill="#ff0000"/>
<circle cx="641.8" cy="1015.4" r="5.2" fill="#ff0000"/>
<circle cx="649.7" cy="1015.3" r="5.2" fill="#ff0000"/>
<circle cx="657.6" cy="1015.2" r="5.2" fill="#ff0000"/>
<circle cx="665.5" cy="1015.1" r="5.2" fill="#ff0000"/>
<circle cx="673.4" cy="1015.1" r="5.2" fill="#ff0000"/>
<circle cx="681.4" cy="1015.0" r="5.2" fill="#ff0000"/>
<circle cx="689.3" cy="1015.0" r="5.2" fill="#ff0000"/>
<circle cx="697.2" cy="1015.2" r="5.2" fill="#ff0000"/>
<circle cx="705.1" cy="1015.7" r="5.2" fill="#ff0000"/>
<circle cx="713.1" cy="1016.5" r="5.2" fill="#ff0000"/>
<circle cx="721.0" cy="1017.3" r="5.2" fill="#ff0000"/>
<circle cx="728.9" cy="1018.1" r="5.2" fill="#ff0000"/>
<circle cx="736.8" cy="1019.4" r="5.2" fill="#ff0000"/>
<circle cx="744.8" cy="1022.5" r="5.2" fill="#ff0000"/>
<circle cx="752.7" cy="1026.3" r="5.2" fill="#ff0000"/>
<circle cx="760.6" cy="1029.7" r="5.2" fill="#ff0000"/>
<circle cx="768.5" cy="1035.0" r="5.2" fill="#ff0000"/>
<path d="M198.1,796.5 L206.0,799.8 L213.9,803.6 L221.9,808.0 L229.8,813.1 L237.7,819.5 L245.6,827.2 L253.6,836.8 L261.5,847.7 L269.4,857.6 L277.3,867.0 L285.2,875.3 L293.2,883.2 L301.1,893.0 L309.0,903.4 L316.9,911.9 L324.9,918.7 L332.8,926.0 L340.7,934.1 L348.6,941.8 L356.5,948.9 L364.5,956.1 L372.4,963.8 L380.3,972.0 L388.2,980.8 L396.2,990.7 L404.1,1000.7 L412.0,1010.8 L419.9,1020.5 L427.9,1029.7 L435.8,1039.1 L443.7,1049.2 L451.6,1058.7 L459.5,1067.0 L467.5,1074.4 L475.4,1081.4 L483.3,1085.7 L491.2,1088.2 L499.2,1090.8 L507.1,1093.4 L515.0,1096.6 L522.9,1099.3 L530.8,1101.2 L538.8,1102.4 L546.7,1103.3 L554.6,1103.9 L562.5,1104.5 L570.5,1105.0 L578.4,1105.4 L586.3,1105.8 L594.2,1106.2 L602.1,1106.6 L610.1,1107.0 L618.0,1107.5 L625.9,1108.0 L633.8,1108.3 L641.8,1108.4 L649.7,1108.4 L657.6,1108.4 L665.5,1108.4 L673.4,1108.4 L681.4,1108.4 L689.3,1108.4 L697.2,1108.5 L705.1,1108.8 L713.1,1109.2 L721.0,1109.8 L728.9,1110.4 L736.8,1111.2 L744.8,1112.3 L752.7,1113.9 L760.6,1116.2 L768.5,1119.1" fill="none" stroke="#50b8f8" stroke-width="2.6" stroke-linejoin="round" stroke-linecap="round" />
<path d="M198.1,791.7 L202.8,800.3 L193.4,800.3Z" fill="#50b8f8"/>
<path d="M206.0,795.0 L210.7,803.6 L201.3,803.6Z" fill="#50b8f8"/>
<path d="M213.9,798.8 L218.6,807.4 L209.2,807.4Z" fill="#50b8f8"/>
<path d="M221.9,803.2 L226.6,811.8 L217.2,811.8Z" fill="#50b8f8"/>
<path d="M229.8,808.3 L234.5,816.9 L225.1,816.9Z" fill="#50b8f8"/>
<path d="M237.7,814.7 L242.4,823.3 L233.0,823.3Z" fill="#50b8f8"/>
<path d="M245.6,822.4 L250.3,831.0 L240.9,831.0Z" fill="#50b8f8"/>
<path d="M253.6,832.0 L258.3,840.6 L248.9,840.6Z" fill="#50b8f8"/>
<path d="M261.5,842.9 L266.2,851.5 L256.8,851.5Z" fill="#50b8f8"/>
<path d="M269.4,852.8 L274.1,861.4 L264.7,861.4Z" fill="#50b8f8"/>
<path d="M277.3,862.2 L282.0,870.8 L272.6,870.8Z" fill="#50b8f8"/>
<path d="M285.2,870.5 L289.9,879.1 L280.5,879.1Z" fill="#50b8f8"/>
<path d="M293.2,878.4 L297.9,887.0 L288.5,887.0Z" fill="#50b8f8"/>
<path d="M301.1,888.2 L305.8,896.8 L296.4,896.8Z" fill="#50b8f8"/>
<path d="M309.0,898.6 L313.7,907.2 L304.3,907.2Z" fill="#50b8f8"/>
<path d="M316.9,907.1 L321.6,915.7 L312.2,915.7Z" fill="#50b8f8"/>
<path d="M324.9,913.9 L329.6,922.5 L320.2,922.5Z" fill="#50b8f8"/>
<path d="M332.8,921.2 L337.5,929.8 L328.1,929.8Z" fill="#50b8f8"/>
<path d="M340.7,929.3 L345.4,937.9 L336.0,937.9Z" fill="#50b8f8"/>
<path d="M348.6,937.0 L353.3,945.6 L343.9,945.6Z" fill="#50b8f8"/>
<path d="M356.5,944.1 L361.2,952.7 L351.8,952.7Z" fill="#50b8f8"/>
<path d="M364.5,951.3 L369.2,959.9 L359.8,959.9Z" fill="#50b8f8"/>
<path d="M372.4,959.0 L377.1,967.6 L367.7,967.6Z" fill="#50b8f8"/>
<path d="M380.3,967.2 L385.0,975.8 L375.6,975.8Z" fill="#50b8f8"/>
<path d="M388.2,976.0 L392.9,984.6 L383.5,984.6Z" fill="#50b8f8"/>
<path d="M396.2,985.9 L400.9,994.5 L391.5,994.5Z" fill="#50b8f8"/>
<path d="M404.1,995.9 L408.8,1004.5 L399.4,1004.5Z" fill="#50b8f8"/>
<path d="M412.0,1006.0 L416.7,1014.6 L407.3,1014.6Z" fill="#50b8f8"/>
<path d="M419.9,1015.7 L424.6,1024.3 L415.2,1024.3Z" fill="#50b8f8"/>
<path d="M427.9,1024.9 L432.6,1033.5 L423.2,1033.5Z" fill="#50b8f8"/>
<path d="M435.8,1034.3 L440.5,1042.9 L431.1,1042.9Z" fill="#50b8f8"/>
<path d="M443.7,1044.4 L448.4,1053.0 L439.0,1053.0Z" fill="#50b8f8"/>
<path d="M451.6,1053.9 L456.3,1062.5 L446.9,1062.5Z" fill="#50b8f8"/>
<path d="M459.5,1062.2 L464.2,1070.8 L454.8,1070.8Z" fill="#50b8f8"/>
<path d="M467.5,1069.6 L472.2,1078.2 L462.8,1078.2Z" fill="#50b8f8"/>
<path d="M475.4,1076.6 L480.1,1085.2 L470.7,1085.2Z" fill="#50b8f8"/>
<path d="M483.3,1080.9 L488.0,1089.5 L478.6,1089.5Z" fill="#50b8f8"/>
<path d="M491.2,1083.4 L495.9,1092.0 L486.5,1092.0Z" fill="#50b8f8"/>
<path d="M499.2,1086.0 L503.9,1094.6 L494.5,1094.6Z" fill="#50b8f8"/>
<path d="M507.1,1088.6 L511.8,1097.2 L502.4,1097.2Z" fill="#50b8f8"/>
<path d="M515.0,1091.8 L519.7,1100.4 L510.3,1100.4Z" fill="#50b8f8"/>
<path d="M522.9,1094.5 L527.6,1103.1 L518.2,1103.1Z" fill="#50b8f8"/>
<path d="M530.8,1096.4 L535.5,1105.0 L526.1,1105.0Z" fill="#50b8f8"/>
<path d="M538.8,1097.6 L543.5,1106.2 L534.1,1106.2Z" fill="#50b8f8"/>
<path d="M546.7,1098.5 L551.4,1107.1 L542.0,1107.1Z" fill="#50b8f8"/>
<path d="M554.6,1099.1 L559.3,1107.7 L549.9,1107.7Z" fill="#50b8f8"/>
<path d="M562.5,1099.7 L567.2,1108.3 L557.8,1108.3Z" fill="#50b8f8"/>
<path d="M570.5,1100.2 L575.2,1108.8 L565.8,1108.8Z" fill="#50b8f8"/>
<path d="M578.4,1100.6 L583.1,1109.2 L573.7,1109.2Z" fill="#50b8f8"/>
<path d="M586.3,1101.0 L591.0,1109.6 L581.6,1109.6Z" fill="#50b8f8"/>
<path d="M594.2,1101.4 L598.9,1110.0 L589.5,1110.0Z" fill="#50b8f8"/>
<path d="M602.1,1101.8 L606.8,1110.4 L597.4,1110.4Z" fill="#50b8f8"/>
<path d="M610.1,1102.2 L614.8,1110.8 L605.4,1110.8Z" fill="#50b8f8"/>
<path d="M618.0,1102.7 L622.7,1111.3 L613.3,1111.3Z" fill="#50b8f8"/>
<path d="M625.9,1103.2 L630.6,1111.8 L621.2,1111.8Z" fill="#50b8f8"/>
<path d="M633.8,1103.5 L638.5,1112.1 L629.1,1112.1Z" fill="#50b8f8"/>
<path d="M641.8,1103.6 L646.5,1112.2 L637.1,1112.2Z" fill="#50b8f8"/>
<path d="M649.7,1103.6 L654.4,1112.2 L645.0,1112.2Z" fill="#50b8f8"/>
<path d="M657.6,1103.6 L662.3,1112.2 L652.9,1112.2Z" fill="#50b8f8"/>
<path d="M665.5,1103.6 L670.2,1112.2 L660.8,1112.2Z" fill="#50b8f8"/>
<path d="M673.4,1103.6 L678.1,1112.2 L668.7,1112.2Z" fill="#50b8f8"/>
<path d="M681.4,1103.6 L686.1,1112.2 L676.7,1112.2Z" fill="#50b8f8"/>
<path d="M689.3,1103.6 L694.0,1112.2 L684.6,1112.2Z" fill="#50b8f8"/>
<path d="M697.2,1103.7 L701.9,1112.3 L692.5,1112.3Z" fill="#50b8f8"/>
<path d="M705.1,1104.0 L709.8,1112.6 L700.4,1112.6Z" fill="#50b8f8"/>
<path d="M713.1,1104.4 L717.8,1113.0 L708.4,1113.0Z" fill="#50b8f8"/>
<path d="M721.0,1105.0 L725.7,1113.6 L716.3,1113.6Z" fill="#50b8f8"/>
<path d="M728.9,1105.6 L733.6,1114.2 L724.2,1114.2Z" fill="#50b8f8"/>
<path d="M736.8,1106.4 L741.5,1115.0 L732.1,1115.0Z" fill="#50b8f8"/>
<path d="M744.8,1107.5 L749.5,1116.1 L740.1,1116.1Z" fill="#50b8f8"/>
<path d="M752.7,1109.1 L757.4,1117.7 L748.0,1117.7Z" fill="#50b8f8"/>
<path d="M760.6,1111.4 L765.3,1120.0 L755.9,1120.0Z" fill="#50b8f8"/>
<path d="M768.5,1114.3 L773.2,1122.9 L763.8,1122.9Z" fill="#50b8f8"/>
<path d="M198.1,850.1 L206.0,858.7 L213.9,867.4 L221.9,876.3 L229.8,884.8 L237.7,892.5 L245.6,899.2 L253.6,904.2 L261.5,908.4 L269.4,913.8 L277.3,921.0 L285.2,927.7 L293.2,934.1 L301.1,939.5 L309.0,944.0 L316.9,949.4 L324.9,955.8 L332.8,962.2 L340.7,968.5 L348.6,974.8 L356.5,981.1 L364.5,987.8 L372.4,995.4 L380.3,1003.4 L388.2,1011.3 L396.2,1019.3 L404.1,1027.2 L412.0,1035.1 L419.9,1043.0 L427.9,1051.2 L435.8,1058.8 L443.7,1065.5 L451.6,1071.9 L459.5,1078.0 L467.5,1083.7 L475.4,1088.9 L483.3,1093.3 L491.2,1097.0 L499.2,1100.1 L507.1,1102.7 L515.0,1104.8 L522.9,1106.2 L530.8,1107.3 L538.8,1108.4 L546.7,1109.5 L554.6,1110.5 L562.5,1111.4 L570.5,1112.1 L578.4,1112.8 L586.3,1113.5 L594.2,1114.0 L602.1,1114.6 L610.1,1115.0 L618.0,1115.4 L625.9,1115.8 L633.8,1116.1 L641.8,1116.5 L649.7,1116.8 L657.6,1117.1 L665.5,1117.3 L673.4,1117.6 L681.4,1117.8 L689.3,1118.1 L697.2,1118.4 L705.1,1118.7 L713.1,1119.1 L721.0,1119.6 L728.9,1120.2 L736.8,1121.4 L744.8,1123.0 L752.7,1124.5 L760.6,1126.2 L768.5,1128.0" fill="none" stroke="#006400" stroke-width="2.6" stroke-linejoin="round" stroke-linecap="round" />
<path d="M193.4,846.3 L202.8,846.3 L198.1,854.9Z" fill="#006400"/>
<path d="M201.3,854.9 L210.7,854.9 L206.0,863.5Z" fill="#006400"/>
<path d="M209.2,863.6 L218.6,863.6 L213.9,872.2Z" fill="#006400"/>
<path d="M217.2,872.5 L226.6,872.5 L221.9,881.1Z" fill="#006400"/>
<path d="M225.1,881.0 L234.5,881.0 L229.8,889.6Z" fill="#006400"/>
<path d="M233.0,888.7 L242.4,888.7 L237.7,897.3Z" fill="#006400"/>
<path d="M240.9,895.4 L250.3,895.4 L245.6,904.0Z" fill="#006400"/>
<path d="M248.9,900.4 L258.3,900.4 L253.6,909.0Z" fill="#006400"/>
<path d="M256.8,904.6 L266.2,904.6 L261.5,913.2Z" fill="#006400"/>
<path d="M264.7,910.0 L274.1,910.0 L269.4,918.6Z" fill="#006400"/>
<path d="M272.6,917.2 L282.0,917.2 L277.3,925.8Z" fill="#006400"/>
<path d="M280.5,923.9 L289.9,923.9 L285.2,932.5Z" fill="#006400"/>
<path d="M288.5,930.3 L297.9,930.3 L293.2,938.9Z" fill="#006400"/>
<path d="M296.4,935.7 L305.8,935.7 L301.1,944.3Z" fill="#006400"/>
<path d="M304.3,940.2 L313.7,940.2 L309.0,948.8Z" fill="#006400"/>
<path d="M312.2,945.6 L321.6,945.6 L316.9,954.2Z" fill="#006400"/>
<path d="M320.2,952.0 L329.6,952.0 L324.9,960.6Z" fill="#006400"/>
<path d="M328.1,958.4 L337.5,958.4 L332.8,967.0Z" fill="#006400"/>
<path d="M336.0,964.7 L345.4,964.7 L340.7,973.3Z" fill="#006400"/>
<path d="M343.9,971.0 L353.3,971.0 L348.6,979.6Z" fill="#006400"/>
<path d="M351.8,977.3 L361.2,977.3 L356.5,985.9Z" fill="#006400"/>
<path d="M359.8,984.0 L369.2,984.0 L364.5,992.6Z" fill="#006400"/>
<path d="M367.7,991.6 L377.1,991.6 L372.4,1000.2Z" fill="#006400"/>
<path d="M375.6,999.6 L385.0,999.6 L380.3,1008.2Z" fill="#006400"/>
<path d="M383.5,1007.5 L392.9,1007.5 L388.2,1016.1Z" fill="#006400"/>
<path d="M391.5,1015.5 L400.9,1015.5 L396.2,1024.1Z" fill="#006400"/>
<path d="M399.4,1023.4 L408.8,1023.4 L404.1,1032.0Z" fill="#006400"/>
<path d="M407.3,1031.3 L416.7,1031.3 L412.0,1039.9Z" fill="#006400"/>
<path d="M415.2,1039.2 L424.6,1039.2 L419.9,1047.8Z" fill="#006400"/>
<path d="M423.2,1047.4 L432.6,1047.4 L427.9,1056.0Z" fill="#006400"/>
<path d="M431.1,1055.0 L440.5,1055.0 L435.8,1063.6Z" fill="#006400"/>
<path d="M439.0,1061.7 L448.4,1061.7 L443.7,1070.3Z" fill="#006400"/>
<path d="M446.9,1068.1 L456.3,1068.1 L451.6,1076.7Z" fill="#006400"/>
<path d="M454.8,1074.2 L464.2,1074.2 L459.5,1082.8Z" fill="#006400"/>
<path d="M462.8,1079.9 L472.2,1079.9 L467.5,1088.5Z" fill="#006400"/>
<path d="M470.7,1085.1 L480.1,1085.1 L475.4,1093.7Z" fill="#006400"/>
<path d="M478.6,1089.5 L488.0,1089.5 L483.3,1098.1Z" fill="#006400"/>
<path d="M486.5,1093.2 L495.9,1093.2 L491.2,1101.8Z" fill="#006400"/>
<path d="M494.5,1096.3 L503.9,1096.3 L499.2,1104.9Z" fill="#006400"/>
<path d="M502.4,1098.9 L511.8,1098.9 L507.1,1107.5Z" fill="#006400"/>
<path d="M510.3,1101.0 L519.7,1101.0 L515.0,1109.6Z" fill="#006400"/>
<path d="M518.2,1102.4 L527.6,1102.4 L522.9,1111.0Z" fill="#006400"/>
<path d="M526.1,1103.5 L535.5,1103.5 L530.8,1112.1Z" fill="#006400"/>
<path d="M534.1,1104.6 L543.5,1104.6 L538.8,1113.2Z" fill="#006400"/>
<path d="M542.0,1105.7 L551.4,1105.7 L546.7,1114.3Z" fill="#006400"/>
<path d="M549.9,1106.7 L559.3,1106.7 L554.6,1115.3Z" fill="#006400"/>
<path d="M557.8,1107.6 L567.2,1107.6 L562.5,1116.2Z" fill="#006400"/>
<path d="M565.8,1108.3 L575.2,1108.3 L570.5,1116.9Z" fill="#006400"/>
<path d="M573.7,1109.0 L583.1,1109.0 L578.4,1117.6Z" fill="#006400"/>
<path d="M581.6,1109.7 L591.0,1109.7 L586.3,1118.3Z" fill="#006400"/>
<path d="M589.5,1110.2 L598.9,1110.2 L594.2,1118.8Z" fill="#006400"/>
<path d="M597.4,1110.8 L606.8,1110.8 L602.1,1119.4Z" fill="#006400"/>
<path d="M605.4,1111.2 L614.8,1111.2 L610.1,1119.8Z" fill="#006400"/>
<path d="M613.3,1111.6 L622.7,1111.6 L618.0,1120.2Z" fill="#006400"/>
<path d="M621.2,1112.0 L630.6,1112.0 L625.9,1120.6Z" fill="#006400"/>
<path d="M629.1,1112.3 L638.5,1112.3 L633.8,1120.9Z" fill="#006400"/>
<path d="M637.1,1112.7 L646.5,1112.7 L641.8,1121.3Z" fill="#006400"/>
<path d="M645.0,1113.0 L654.4,1113.0 L649.7,1121.6Z" fill="#006400"/>
<path d="M652.9,1113.3 L662.3,1113.3 L657.6,1121.9Z" fill="#006400"/>
<path d="M660.8,1113.5 L670.2,1113.5 L665.5,1122.1Z" fill="#006400"/>
<path d="M668.7,1113.8 L678.1,1113.8 L673.4,1122.4Z" fill="#006400"/>
<path d="M676.7,1114.0 L686.1,1114.0 L681.4,1122.6Z" fill="#006400"/>
<path d="M684.6,1114.3 L694.0,1114.3 L689.3,1122.9Z" fill="#006400"/>
<path d="M692.5,1114.6 L701.9,1114.6 L697.2,1123.2Z" fill="#006400"/>
<path d="M700.4,1114.9 L709.8,1114.9 L705.1,1123.5Z" fill="#006400"/>
<path d="M708.4,1115.3 L717.8,1115.3 L713.1,1123.9Z" fill="#006400"/>
<path d="M716.3,1115.8 L725.7,1115.8 L721.0,1124.4Z" fill="#006400"/>
<path d="M724.2,1116.4 L733.6,1116.4 L728.9,1125.0Z" fill="#006400"/>
<path d="M732.1,1117.6 L741.5,1117.6 L736.8,1126.2Z" fill="#006400"/>
<path d="M740.1,1119.2 L749.5,1119.2 L744.8,1127.8Z" fill="#006400"/>
<path d="M748.0,1120.7 L757.4,1120.7 L752.7,1129.3Z" fill="#006400"/>
<path d="M755.9,1122.4 L765.3,1122.4 L760.6,1131.0Z" fill="#006400"/>
<path d="M763.8,1124.2 L773.2,1124.2 L768.5,1132.8Z" fill="#006400"/>
<path d="M198.1,1155.0 L206.0,1155.1 L213.9,1155.3 L221.9,1155.6 L229.8,1156.0 L237.7,1157.2 L245.6,1159.5 L253.6,1162.2 L261.5,1165.0 L269.4,1168.2 L277.3,1171.6 L285.2,1174.9 L293.2,1177.8 L301.1,1180.3 L309.0,1182.7 L316.9,1185.0 L324.9,1187.1 L332.8,1189.2 L340.7,1191.2 L348.6,1193.2 L356.5,1195.0 L364.5,1196.6 L372.4,1197.9 L380.3,1199.4 L388.2,1201.2 L396.2,1204.0 L404.1,1207.8 L412.0,1211.3 L419.9,1213.8 L427.9,1215.0 L435.8,1213.7 L443.7,1211.1 L451.6,1206.9 L459.5,1200.3 L467.5,1197.0 L475.4,1195.5 L483.3,1195.6 L491.2,1196.0 L499.2,1198.3 L507.1,1202.8 L515.0,1211.2 L522.9,1219.3 L530.8,1224.5 L538.8,1229.0 L546.7,1232.1 L554.6,1232.9 L562.5,1231.1 L570.5,1227.7 L578.4,1224.2 L586.3,1220.5 L594.2,1216.4 L602.1,1212.1 L610.1,1207.6 L618.0,1203.0 L625.9,1198.8 L633.8,1195.6 L641.8,1191.5 L649.7,1186.5 L657.6,1182.9 L665.5,1175.1 L673.4,1168.7 L681.4,1156.9 L689.3,1146.7 L697.2,1131.8 L705.1,1113.8 L713.1,1095.0 L721.0,1080.3 L728.9,1053.9 L736.8,1037.5 L744.8,1020.9 L752.7,1003.6 L760.6,985.8 L768.5,978.3" fill="none" stroke="#000000" stroke-width="2.6" stroke-linejoin="round" stroke-linecap="round" />
<rect x="193.8" y="1150.5" width="8.5" height="9" fill="#000000"/>
<rect x="201.8" y="1150.6" width="8.5" height="9" fill="#000000"/>
<rect x="209.7" y="1150.8" width="8.5" height="9" fill="#000000"/>
<rect x="217.6" y="1151.1" width="8.5" height="9" fill="#000000"/>
<rect x="225.5" y="1151.5" width="8.5" height="9" fill="#000000"/>
<rect x="233.5" y="1152.7" width="8.5" height="9" fill="#000000"/>
<rect x="241.4" y="1155.0" width="8.5" height="9" fill="#000000"/>
<rect x="249.3" y="1157.7" width="8.5" height="9" fill="#000000"/>
<rect x="257.2" y="1160.5" width="8.5" height="9" fill="#000000"/>
<rect x="265.2" y="1163.7" width="8.5" height="9" fill="#000000"/>
<rect x="273.1" y="1167.1" width="8.5" height="9" fill="#000000"/>
<rect x="281.0" y="1170.4" width="8.5" height="9" fill="#000000"/>
<rect x="288.9" y="1173.3" width="8.5" height="9" fill="#000000"/>
<rect x="296.8" y="1175.8" width="8.5" height="9" fill="#000000"/>
<rect x="304.8" y="1178.2" width="8.5" height="9" fill="#000000"/>
<rect x="312.7" y="1180.5" width="8.5" height="9" fill="#000000"/>
<rect x="320.6" y="1182.6" width="8.5" height="9" fill="#000000"/>
<rect x="328.5" y="1184.7" width="8.5" height="9" fill="#000000"/>
<rect x="336.5" y="1186.7" width="8.5" height="9" fill="#000000"/>
<rect x="344.4" y="1188.7" width="8.5" height="9" fill="#000000"/>
<rect x="352.3" y="1190.5" width="8.5" height="9" fill="#000000"/>
<rect x="360.2" y="1192.1" width="8.5" height="9" fill="#000000"/>
<rect x="368.1" y="1193.4" width="8.5" height="9" fill="#000000"/>
<rect x="376.1" y="1194.9" width="8.5" height="9" fill="#000000"/>
<rect x="384.0" y="1196.7" width="8.5" height="9" fill="#000000"/>
<rect x="391.9" y="1199.5" width="8.5" height="9" fill="#000000"/>
<rect x="399.8" y="1203.3" width="8.5" height="9" fill="#000000"/>
<rect x="407.8" y="1206.8" width="8.5" height="9" fill="#000000"/>
<rect x="415.7" y="1209.3" width="8.5" height="9" fill="#000000"/>
<rect x="423.6" y="1210.5" width="8.5" height="9" fill="#000000"/>
<rect x="431.5" y="1209.2" width="8.5" height="9" fill="#000000"/>
<rect x="439.4" y="1206.6" width="8.5" height="9" fill="#000000"/>
<rect x="447.4" y="1202.4" width="8.5" height="9" fill="#000000"/>
<rect x="455.3" y="1195.8" width="8.5" height="9" fill="#000000"/>
<rect x="463.2" y="1192.5" width="8.5" height="9" fill="#000000"/>
<rect x="471.1" y="1191.0" width="8.5" height="9" fill="#000000"/>
<rect x="479.1" y="1191.1" width="8.5" height="9" fill="#000000"/>
<rect x="487.0" y="1191.5" width="8.5" height="9" fill="#000000"/>
<rect x="494.9" y="1193.8" width="8.5" height="9" fill="#000000"/>
<rect x="502.8" y="1198.3" width="8.5" height="9" fill="#000000"/>
<rect x="510.8" y="1206.7" width="8.5" height="9" fill="#000000"/>
<rect x="518.7" y="1214.8" width="8.5" height="9" fill="#000000"/>
<rect x="526.6" y="1220.0" width="8.5" height="9" fill="#000000"/>
<rect x="534.5" y="1224.5" width="8.5" height="9" fill="#000000"/>
<rect x="542.4" y="1227.6" width="8.5" height="9" fill="#000000"/>
<rect x="550.4" y="1228.4" width="8.5" height="9" fill="#000000"/>
<rect x="558.3" y="1226.6" width="8.5" height="9" fill="#000000"/>
<rect x="566.2" y="1223.2" width="8.5" height="9" fill="#000000"/>
<rect x="574.1" y="1219.7" width="8.5" height="9" fill="#000000"/>
<rect x="582.1" y="1216.0" width="8.5" height="9" fill="#000000"/>
<rect x="590.0" y="1211.9" width="8.5" height="9" fill="#000000"/>
<rect x="597.9" y="1207.6" width="8.5" height="9" fill="#000000"/>
<rect x="605.8" y="1203.1" width="8.5" height="9" fill="#000000"/>
<rect x="613.7" y="1198.5" width="8.5" height="9" fill="#000000"/>
<rect x="621.7" y="1194.3" width="8.5" height="9" fill="#000000"/>
<rect x="629.6" y="1191.1" width="8.5" height="9" fill="#000000"/>
<rect x="637.5" y="1187.0" width="8.5" height="9" fill="#000000"/>
<rect x="645.4" y="1182.0" width="8.5" height="9" fill="#000000"/>
<rect x="653.4" y="1178.4" width="8.5" height="9" fill="#000000"/>
<rect x="661.3" y="1170.6" width="8.5" height="9" fill="#000000"/>
<rect x="669.2" y="1164.2" width="8.5" height="9" fill="#000000"/>
<rect x="677.1" y="1152.4" width="8.5" height="9" fill="#000000"/>
<rect x="685.0" y="1142.2" width="8.5" height="9" fill="#000000"/>
<rect x="693.0" y="1127.3" width="8.5" height="9" fill="#000000"/>
<rect x="700.9" y="1109.3" width="8.5" height="9" fill="#000000"/>
<rect x="708.8" y="1090.5" width="8.5" height="9" fill="#000000"/>
<rect x="716.7" y="1075.8" width="8.5" height="9" fill="#000000"/>
<rect x="724.7" y="1049.4" width="8.5" height="9" fill="#000000"/>
<rect x="732.6" y="1033.0" width="8.5" height="9" fill="#000000"/>
<rect x="740.5" y="1016.4" width="8.5" height="9" fill="#000000"/>
<rect x="748.4" y="999.1" width="8.5" height="9" fill="#000000"/>
<rect x="756.3" y="981.3" width="8.5" height="9" fill="#000000"/>
<rect x="764.3" y="973.8" width="8.5" height="9" fill="#000000"/>
<path d="M198.1,1136.7 L206.0,1135.8 L213.9,1134.9 L221.9,1134.0 L229.8,1133.3 L237.7,1132.6 L245.6,1131.8 L253.6,1131.1 L261.5,1130.5 L269.4,1130.1 L277.3,1130.0 L285.2,1130.2 L293.2,1130.9 L301.1,1131.8 L309.0,1133.3 L316.9,1137.6 L324.9,1142.6 L332.8,1147.2 L340.7,1152.2 L348.6,1157.6 L356.5,1163.2 L364.5,1168.8 L372.4,1174.2 L380.3,1178.5 L388.2,1182.0 L396.2,1184.8 L404.1,1187.0 L412.0,1188.8 L419.9,1190.5 L427.9,1192.6 L435.8,1195.6 L443.7,1199.7 L451.6,1204.1 L459.5,1208.9 L467.5,1214.3 L475.4,1217.8 L483.3,1218.7 L491.2,1218.9 L499.2,1214.8 L507.1,1212.4 L515.0,1212.4 L522.9,1212.4 L530.8,1212.4 L538.8,1212.4 L546.7,1212.0 L554.6,1210.4 L562.5,1208.2 L570.5,1206.3 L578.4,1205.1 L586.3,1204.5 L594.2,1203.9 L602.1,1203.6 L610.1,1203.8 L618.0,1204.6 L625.9,1205.2 L633.8,1204.5 L641.8,1202.0 L649.7,1198.9 L657.6,1194.7 L665.5,1188.8 L673.4,1183.3 L681.4,1178.9 L689.3,1171.6 L697.2,1164.4 L705.1,1154.6 L713.1,1142.1 L721.0,1129.7 L728.9,1113.6 L736.8,1096.0 L744.8,1079.0 L752.7,1052.8 L760.6,1037.9 L768.5,1021.7" fill="none" stroke="#ff0000" stroke-width="2.6" stroke-linejoin="round" stroke-linecap="round" />
<circle cx="198.1" cy="1136.7" r="5.2" fill="#ff0000"/>
<circle cx="206.0" cy="1135.8" r="5.2" fill="#ff0000"/>
<circle cx="213.9" cy="1134.9" r="5.2" fill="#ff0000"/>
<circle cx="221.9" cy="1134.0" r="5.2" fill="#ff0000"/>
<circle cx="229.8" cy="1133.3" r="5.2" fill="#ff0000"/>
<circle cx="237.7" cy="1132.6" r="5.2" fill="#ff0000"/>
<circle cx="245.6" cy="1131.8" r="5.2" fill="#ff0000"/>
<circle cx="253.6" cy="1131.1" r="5.2" fill="#ff0000"/>
<circle cx="261.5" cy="1130.5" r="5.2" fill="#ff0000"/>
<circle cx="269.4" cy="1130.1" r="5.2" fill="#ff0000"/>
<circle cx="277.3" cy="1130.0" r="5.2" fill="#ff0000"/>
<circle cx="285.2" cy="1130.2" r="5.2" fill="#ff0000"/>
<circle cx="293.2" cy="1130.9" r="5.2" fill="#ff0000"/>
<circle cx="301.1" cy="1131.8" r="5.2" fill="#ff0000"/>
<circle cx="309.0" cy="1133.3" r="5.2" fill="#ff0000"/>
<circle cx="316.9" cy="1137.6" r="5.2" fill="#ff0000"/>
<circle cx="324.9" cy="1142.6" r="5.2" fill="#ff0000"/>
<circle cx="332.8" cy="1147.2" r="5.2" fill="#ff0000"/>
<circle cx="340.7" cy="1152.2" r="5.2" fill="#ff0000"/>
<circle cx="348.6" cy="1157.6" r="5.2" fill="#ff0000"/>
<circle cx="356.5" cy="1163.2" r="5.2" fill="#ff0000"/>
<circle cx="364.5" cy="1168.8" r="5.2" fill="#ff0000"/>
<circle cx="372.4" cy="1174.2" r="5.2" fill="#ff0000"/>
<circle cx="380.3" cy="1178.5" r="5.2" fill="#ff0000"/>
<circle cx="388.2" cy="1182.0" r="5.2" fill="#ff0000"/>
<circle cx="396.2" cy="1184.8" r="5.2" fill="#ff0000"/>
<circle cx="404.1" cy="1187.0" r="5.2" fill="#ff0000"/>
<circle cx="412.0" cy="1188.8" r="5.2" fill="#ff0000"/>
<circle cx="419.9" cy="1190.5" r="5.2" fill="#ff0000"/>
<circle cx="427.9" cy="1192.6" r="5.2" fill="#ff0000"/>
<circle cx="435.8" cy="1195.6" r="5.2" fill="#ff0000"/>
<circle cx="443.7" cy="1199.7" r="5.2" fill="#ff0000"/>
<circle cx="451.6" cy="1204.1" r="5.2" fill="#ff0000"/>
<circle cx="459.5" cy="1208.9" r="5.2" fill="#ff0000"/>
<circle cx="467.5" cy="1214.3" r="5.2" fill="#ff0000"/>
<circle cx="475.4" cy="1217.8" r="5.2" fill="#ff0000"/>
<circle cx="483.3" cy="1218.7" r="5.2" fill="#ff0000"/>
<circle cx="491.2" cy="1218.9" r="5.2" fill="#ff0000"/>
<circle cx="499.2" cy="1214.8" r="5.2" fill="#ff0000"/>
<circle cx="507.1" cy="1212.4" r="5.2" fill="#ff0000"/>
<circle cx="515.0" cy="1212.4" r="5.2" fill="#ff0000"/>
<circle cx="522.9" cy="1212.4" r="5.2" fill="#ff0000"/>
<circle cx="530.8" cy="1212.4" r="5.2" fill="#ff0000"/>
<circle cx="538.8" cy="1212.4" r="5.2" fill="#ff0000"/>
<circle cx="546.7" cy="1212.0" r="5.2" fill="#ff0000"/>
<circle cx="554.6" cy="1210.4" r="5.2" fill="#ff0000"/>
<circle cx="562.5" cy="1208.2" r="5.2" fill="#ff0000"/>
<circle cx="570.5" cy="1206.3" r="5.2" fill="#ff0000"/>
<circle cx="578.4" cy="1205.1" r="5.2" fill="#ff0000"/>
<circle cx="586.3" cy="1204.5" r="5.2" fill="#ff0000"/>
<circle cx="594.2" cy="1203.9" r="5.2" fill="#ff0000"/>
<circle cx="602.1" cy="1203.6" r="5.2" fill="#ff0000"/>
<circle cx="610.1" cy="1203.8" r="5.2" fill="#ff0000"/>
<circle cx="618.0" cy="1204.6" r="5.2" fill="#ff0000"/>
<circle cx="625.9" cy="1205.2" r="5.2" fill="#ff0000"/>
<circle cx="633.8" cy="1204.5" r="5.2" fill="#ff0000"/>
<circle cx="641.8" cy="1202.0" r="5.2" fill="#ff0000"/>
<circle cx="649.7" cy="1198.9" r="5.2" fill="#ff0000"/>
<circle cx="657.6" cy="1194.7" r="5.2" fill="#ff0000"/>
<circle cx="665.5" cy="1188.8" r="5.2" fill="#ff0000"/>
<circle cx="673.4" cy="1183.3" r="5.2" fill="#ff0000"/>
<circle cx="681.4" cy="1178.9" r="5.2" fill="#ff0000"/>
<circle cx="689.3" cy="1171.6" r="5.2" fill="#ff0000"/>
<circle cx="697.2" cy="1164.4" r="5.2" fill="#ff0000"/>
<circle cx="705.1" cy="1154.6" r="5.2" fill="#ff0000"/>
<circle cx="713.1" cy="1142.1" r="5.2" fill="#ff0000"/>
<circle cx="721.0" cy="1129.7" r="5.2" fill="#ff0000"/>
<circle cx="728.9" cy="1113.6" r="5.2" fill="#ff0000"/>
<circle cx="736.8" cy="1096.0" r="5.2" fill="#ff0000"/>
<circle cx="744.8" cy="1079.0" r="5.2" fill="#ff0000"/>
<circle cx="752.7" cy="1052.8" r="5.2" fill="#ff0000"/>
<circle cx="760.6" cy="1037.9" r="5.2" fill="#ff0000"/>
<circle cx="768.5" cy="1021.7" r="5.2" fill="#ff0000"/>
<path d="M198.1,980.0 L206.0,982.9 L213.9,984.0 L221.9,983.8 L229.8,983.3 L237.7,980.9 L245.6,975.8 L253.6,966.8 L261.5,953.2 L269.4,938.9 L277.3,922.6 L285.2,904.2 L293.2,883.6 L301.1,861.4 L309.0,841.3 L316.9,824.5 L324.9,814.6 L332.8,807.7 L340.7,802.9 L348.6,799.4 L356.5,796.7 L364.5,794.7 L372.4,793.0 L380.3,791.5 L388.2,790.5 L396.2,790.3 L404.1,792.5 L412.0,797.9 L419.9,806.9 L427.9,819.9 L435.8,836.0 L443.7,856.3 L451.6,880.9 L459.5,908.7 L467.5,936.4 L475.4,965.6 L483.3,993.1 L491.2,1016.8 L499.2,1044.6 L507.1,1056.7 L515.0,1074.4 L522.9,1088.0 L530.8,1100.5 L538.8,1113.7 L546.7,1122.9 L554.6,1130.6 L562.5,1138.6 L570.5,1148.4 L578.4,1156.1 L586.3,1162.4 L594.2,1168.3 L602.1,1174.1 L610.1,1179.2 L618.0,1181.9 L625.9,1183.2 L633.8,1186.2 L641.8,1189.0 L649.7,1190.3 L657.6,1191.1 L665.5,1190.6 L673.4,1189.3 L681.4,1186.9 L689.3,1182.4 L697.2,1176.3 L705.1,1171.0 L713.1,1161.9 L721.0,1152.2 L728.9,1142.3 L736.8,1128.1 L744.8,1113.1 L752.7,1096.7 L760.6,1082.3 L768.5,1063.1" fill="none" stroke="#50b8f8" stroke-width="2.6" stroke-linejoin="round" stroke-linecap="round" />
<path d="M198.1,975.2 L202.8,983.8 L193.4,983.8Z" fill="#50b8f8"/>
<path d="M206.0,978.1 L210.7,986.7 L201.3,986.7Z" fill="#50b8f8"/>
<path d="M213.9,979.2 L218.6,987.8 L209.2,987.8Z" fill="#50b8f8"/>
<path d="M221.9,979.0 L226.6,987.6 L217.2,987.6Z" fill="#50b8f8"/>
<path d="M229.8,978.5 L234.5,987.1 L225.1,987.1Z" fill="#50b8f8"/>
<path d="M237.7,976.1 L242.4,984.7 L233.0,984.7Z" fill="#50b8f8"/>
<path d="M245.6,971.0 L250.3,979.6 L240.9,979.6Z" fill="#50b8f8"/>
<path d="M253.6,962.0 L258.3,970.6 L248.9,970.6Z" fill="#50b8f8"/>
<path d="M261.5,948.4 L266.2,957.0 L256.8,957.0Z" fill="#50b8f8"/>
<path d="M269.4,934.1 L274.1,942.7 L264.7,942.7Z" fill="#50b8f8"/>
<path d="M277.3,917.8 L282.0,926.4 L272.6,926.4Z" fill="#50b8f8"/>
<path d="M285.2,899.4 L289.9,908.0 L280.5,908.0Z" fill="#50b8f8"/>
<path d="M293.2,878.8 L297.9,887.4 L288.5,887.4Z" fill="#50b8f8"/>
<path d="M301.1,856.6 L305.8,865.2 L296.4,865.2Z" fill="#50b8f8"/>
<path d="M309.0,836.5 L313.7,845.1 L304.3,845.1Z" fill="#50b8f8"/>
<path d="M316.9,819.7 L321.6,828.3 L312.2,828.3Z" fill="#50b8f8"/>
<path d="M324.9,809.8 L329.6,818.4 L320.2,818.4Z" fill="#50b8f8"/>
<path d="M332.8,802.9 L337.5,811.5 L328.1,811.5Z" fill="#50b8f8"/>
<path d="M340.7,798.1 L345.4,806.7 L336.0,806.7Z" fill="#50b8f8"/>
<path d="M348.6,794.6 L353.3,803.2 L343.9,803.2Z" fill="#50b8f8"/>
<path d="M356.5,791.9 L361.2,800.5 L351.8,800.5Z" fill="#50b8f8"/>
<path d="M364.5,789.9 L369.2,798.5 L359.8,798.5Z" fill="#50b8f8"/>
<path d="M372.4,788.2 L377.1,796.8 L367.7,796.8Z" fill="#50b8f8"/>
<path d="M380.3,786.7 L385.0,795.3 L375.6,795.3Z" fill="#50b8f8"/>
<path d="M388.2,785.7 L392.9,794.3 L383.5,794.3Z" fill="#50b8f8"/>
<path d="M396.2,785.5 L400.9,794.1 L391.5,794.1Z" fill="#50b8f8"/>
<path d="M404.1,787.7 L408.8,796.3 L399.4,796.3Z" fill="#50b8f8"/>
<path d="M412.0,793.1 L416.7,801.7 L407.3,801.7Z" fill="#50b8f8"/>
<path d="M419.9,802.1 L424.6,810.7 L415.2,810.7Z" fill="#50b8f8"/>
<path d="M427.9,815.1 L432.6,823.7 L423.2,823.7Z" fill="#50b8f8"/>
<path d="M435.8,831.2 L440.5,839.8 L431.1,839.8Z" fill="#50b8f8"/>
<path d="M443.7,851.5 L448.4,860.1 L439.0,860.1Z" fill="#50b8f8"/>
<path d="M451.6,876.1 L456.3,884.7 L446.9,884.7Z" fill="#50b8f8"/>
<path d="M459.5,903.9 L464.2,912.5 L454.8,912.5Z" fill="#50b8f8"/>
<path d="M467.5,931.6 L472.2,940.2 L462.8,940.2Z" fill="#50b8f8"/>
<path d="M475.4,960.8 L480.1,969.4 L470.7,969.4Z" fill="#50b8f8"/>
<path d="M483.3,988.3 L488.0,996.9 L478.6,996.9Z" fill="#50b8f8"/>
<path d="M491.2,1012.0 L495.9,1020.6 L486.5,1020.6Z" fill="#50b8f8"/>
<path d="M499.2,1039.8 L503.9,1048.4 L494.5,1048.4Z" fill="#50b8f8"/>
<path d="M507.1,1051.9 L511.8,1060.5 L502.4,1060.5Z" fill="#50b8f8"/>
<path d="M515.0,1069.6 L519.7,1078.2 L510.3,1078.2Z" fill="#50b8f8"/>
<path d="M522.9,1083.2 L527.6,1091.8 L518.2,1091.8Z" fill="#50b8f8"/>
<path d="M530.8,1095.7 L535.5,1104.3 L526.1,1104.3Z" fill="#50b8f8"/>
<path d="M538.8,1108.9 L543.5,1117.5 L534.1,1117.5Z" fill="#50b8f8"/>
<path d="M546.7,1118.1 L551.4,1126.7 L542.0,1126.7Z" fill="#50b8f8"/>
<path d="M554.6,1125.8 L559.3,1134.4 L549.9,1134.4Z" fill="#50b8f8"/>
<path d="M562.5,1133.8 L567.2,1142.4 L557.8,1142.4Z" fill="#50b8f8"/>
<path d="M570.5,1143.6 L575.2,1152.2 L565.8,1152.2Z" fill="#50b8f8"/>
<path d="M578.4,1151.3 L583.1,1159.9 L573.7,1159.9Z" fill="#50b8f8"/>
<path d="M586.3,1157.6 L591.0,1166.2 L581.6,1166.2Z" fill="#50b8f8"/>
<path d="M594.2,1163.5 L598.9,1172.1 L589.5,1172.1Z" fill="#50b8f8"/>
<path d="M602.1,1169.3 L606.8,1177.9 L597.4,1177.9Z" fill="#50b8f8"/>
<path d="M610.1,1174.4 L614.8,1183.0 L605.4,1183.0Z" fill="#50b8f8"/>
<path d="M618.0,1177.1 L622.7,1185.7 L613.3,1185.7Z" fill="#50b8f8"/>
<path d="M625.9,1178.4 L630.6,1187.0 L621.2,1187.0Z" fill="#50b8f8"/>
<path d="M633.8,1181.4 L638.5,1190.0 L629.1,1190.0Z" fill="#50b8f8"/>
<path d="M641.8,1184.2 L646.5,1192.8 L637.1,1192.8Z" fill="#50b8f8"/>
<path d="M649.7,1185.5 L654.4,1194.1 L645.0,1194.1Z" fill="#50b8f8"/>
<path d="M657.6,1186.3 L662.3,1194.9 L652.9,1194.9Z" fill="#50b8f8"/>
<path d="M665.5,1185.8 L670.2,1194.4 L660.8,1194.4Z" fill="#50b8f8"/>
<path d="M673.4,1184.5 L678.1,1193.1 L668.7,1193.1Z" fill="#50b8f8"/>
<path d="M681.4,1182.1 L686.1,1190.7 L676.7,1190.7Z" fill="#50b8f8"/>
<path d="M689.3,1177.6 L694.0,1186.2 L684.6,1186.2Z" fill="#50b8f8"/>
<path d="M697.2,1171.5 L701.9,1180.1 L692.5,1180.1Z" fill="#50b8f8"/>
<path d="M705.1,1166.2 L709.8,1174.8 L700.4,1174.8Z" fill="#50b8f8"/>
<path d="M713.1,1157.1 L717.8,1165.7 L708.4,1165.7Z" fill="#50b8f8"/>
<path d="M721.0,1147.4 L725.7,1156.0 L716.3,1156.0Z" fill="#50b8f8"/>
<path d="M728.9,1137.5 L733.6,1146.1 L724.2,1146.1Z" fill="#50b8f8"/>
<path d="M736.8,1123.3 L741.5,1131.9 L732.1,1131.9Z" fill="#50b8f8"/>
<path d="M744.8,1108.3 L749.5,1116.9 L740.1,1116.9Z" fill="#50b8f8"/>
<path d="M752.7,1091.9 L757.4,1100.5 L748.0,1100.5Z" fill="#50b8f8"/>
<path d="M760.6,1077.5 L765.3,1086.1 L755.9,1086.1Z" fill="#50b8f8"/>
<path d="M768.5,1058.3 L773.2,1066.9 L763.8,1066.9Z" fill="#50b8f8"/>
<path d="M198.1,972.3 L206.0,955.7 L213.9,942.3 L221.9,931.2 L229.8,923.4 L237.7,919.7 L245.6,917.1 L253.6,914.7 L261.5,912.3 L269.4,908.9 L277.3,904.7 L285.2,900.7 L293.2,896.9 L301.1,892.4 L309.0,887.5 L316.9,883.1 L324.9,879.3 L332.8,875.1 L340.7,870.2 L348.6,865.6 L356.5,861.2 L364.5,857.9 L372.4,855.6 L380.3,854.7 L388.2,856.4 L396.2,859.7 L404.1,866.1 L412.0,874.3 L419.9,885.4 L427.9,901.8 L435.8,919.4 L443.7,937.7 L451.6,955.4 L459.5,977.2 L467.5,997.0 L475.4,1016.1 L483.3,1033.2 L491.2,1049.7 L499.2,1063.7 L507.1,1078.0 L515.0,1093.9 L522.9,1106.7 L530.8,1116.2 L538.8,1127.8 L546.7,1137.6 L554.6,1146.4 L562.5,1152.7 L570.5,1160.7 L578.4,1164.8 L586.3,1171.3 L594.2,1176.2 L602.1,1179.8 L610.1,1183.0 L618.0,1186.1 L625.9,1189.0 L633.8,1191.9 L641.8,1193.7 L649.7,1195.0 L657.6,1195.7 L665.5,1196.2 L673.4,1196.4 L681.4,1195.9 L689.3,1194.9 L697.2,1193.6 L705.1,1191.6 L713.1,1188.8 L721.0,1186.2 L728.9,1183.5 L736.8,1179.2 L744.8,1172.7 L752.7,1165.8 L760.6,1156.2 L768.5,1148.4" fill="none" stroke="#006400" stroke-width="2.6" stroke-linejoin="round" stroke-linecap="round" />
<path d="M193.4,968.5 L202.8,968.5 L198.1,977.1Z" fill="#006400"/>
<path d="M201.3,951.9 L210.7,951.9 L206.0,960.5Z" fill="#006400"/>
<path d="M209.2,938.5 L218.6,938.5 L213.9,947.1Z" fill="#006400"/>
<path d="M217.2,927.4 L226.6,927.4 L221.9,936.0Z" fill="#006400"/>
<path d="M225.1,919.6 L234.5,919.6 L229.8,928.2Z" fill="#006400"/>
<path d="M233.0,915.9 L242.4,915.9 L237.7,924.5Z" fill="#006400"/>
<path d="M240.9,913.3 L250.3,913.3 L245.6,921.9Z" fill="#006400"/>
<path d="M248.9,910.9 L258.3,910.9 L253.6,919.5Z" fill="#006400"/>
<path d="M256.8,908.5 L266.2,908.5 L261.5,917.1Z" fill="#006400"/>
<path d="M264.7,905.1 L274.1,905.1 L269.4,913.7Z" fill="#006400"/>
<path d="M272.6,900.9 L282.0,900.9 L277.3,909.5Z" fill="#006400"/>
<path d="M280.5,896.9 L289.9,896.9 L285.2,905.5Z" fill="#006400"/>
<path d="M288.5,893.1 L297.9,893.1 L293.2,901.7Z" fill="#006400"/>
<path d="M296.4,888.6 L305.8,888.6 L301.1,897.2Z" fill="#006400"/>
<path d="M304.3,883.7 L313.7,883.7 L309.0,892.3Z" fill="#006400"/>
<path d="M312.2,879.3 L321.6,879.3 L316.9,887.9Z" fill="#006400"/>
<path d="M320.2,875.5 L329.6,875.5 L324.9,884.1Z" fill="#006400"/>
<path d="M328.1,871.3 L337.5,871.3 L332.8,879.9Z" fill="#006400"/>
<path d="M336.0,866.4 L345.4,866.4 L340.7,875.0Z" fill="#006400"/>
<path d="M343.9,861.8 L353.3,861.8 L348.6,870.4Z" fill="#006400"/>
<path d="M351.8,857.4 L361.2,857.4 L356.5,866.0Z" fill="#006400"/>
<path d="M359.8,854.1 L369.2,854.1 L364.5,862.7Z" fill="#006400"/>
<path d="M367.7,851.8 L377.1,851.8 L372.4,860.4Z" fill="#006400"/>
<path d="M375.6,850.9 L385.0,850.9 L380.3,859.5Z" fill="#006400"/>
<path d="M383.5,852.6 L392.9,852.6 L388.2,861.2Z" fill="#006400"/>
<path d="M391.5,855.9 L400.9,855.9 L396.2,864.5Z" fill="#006400"/>
<path d="M399.4,862.3 L408.8,862.3 L404.1,870.9Z" fill="#006400"/>
<path d="M407.3,870.5 L416.7,870.5 L412.0,879.1Z" fill="#006400"/>
<path d="M415.2,881.6 L424.6,881.6 L419.9,890.2Z" fill="#006400"/>
<path d="M423.2,898.0 L432.6,898.0 L427.9,906.6Z" fill="#006400"/>
<path d="M431.1,915.6 L440.5,915.6 L435.8,924.2Z" fill="#006400"/>
<path d="M439.0,933.9 L448.4,933.9 L443.7,942.5Z" fill="#006400"/>
<path d="M446.9,951.6 L456.3,951.6 L451.6,960.2Z" fill="#006400"/>
<path d="M454.8,973.4 L464.2,973.4 L459.5,982.0Z" fill="#006400"/>
<path d="M462.8,993.2 L472.2,993.2 L467.5,1001.8Z" fill="#006400"/>
<path d="M470.7,1012.3 L480.1,1012.3 L475.4,1020.9Z" fill="#006400"/>
<path d="M478.6,1029.4 L488.0,1029.4 L483.3,1038.0Z" fill="#006400"/>
<path d="M486.5,1045.9 L495.9,1045.9 L491.2,1054.5Z" fill="#006400"/>
<path d="M494.5,1059.9 L503.9,1059.9 L499.2,1068.5Z" fill="#006400"/>
<path d="M502.4,1074.2 L511.8,1074.2 L507.1,1082.8Z" fill="#006400"/>
<path d="M510.3,1090.1 L519.7,1090.1 L515.0,1098.7Z" fill="#006400"/>
<path d="M518.2,1102.9 L527.6,1102.9 L522.9,1111.5Z" fill="#006400"/>
<path d="M526.1,1112.4 L535.5,1112.4 L530.8,1121.0Z" fill="#006400"/>
<path d="M534.1,1124.0 L543.5,1124.0 L538.8,1132.6Z" fill="#006400"/>
<path d="M542.0,1133.8 L551.4,1133.8 L546.7,1142.4Z" fill="#006400"/>
<path d="M549.9,1142.6 L559.3,1142.6 L554.6,1151.2Z" fill="#006400"/>
<path d="M557.8,1148.9 L567.2,1148.9 L562.5,1157.5Z" fill="#006400"/>
<path d="M565.8,1156.9 L575.2,1156.9 L570.5,1165.5Z" fill="#006400"/>
<path d="M573.7,1161.0 L583.1,1161.0 L578.4,1169.6Z" fill="#006400"/>
<path d="M581.6,1167.5 L591.0,1167.5 L586.3,1176.1Z" fill="#006400"/>
<path d="M589.5,1172.4 L598.9,1172.4 L594.2,1181.0Z" fill="#006400"/>
<path d="M597.4,1176.0 L606.8,1176.0 L602.1,1184.6Z" fill="#006400"/>
<path d="M605.4,1179.2 L614.8,1179.2 L610.1,1187.8Z" fill="#006400"/>
<path d="M613.3,1182.3 L622.7,1182.3 L618.0,1190.9Z" fill="#006400"/>
<path d="M621.2,1185.2 L630.6,1185.2 L625.9,1193.8Z" fill="#006400"/>
<path d="M629.1,1188.1 L638.5,1188.1 L633.8,1196.7Z" fill="#006400"/>
<path d="M637.1,1189.9 L646.5,1189.9 L641.8,1198.5Z" fill="#006400"/>
<path d="M645.0,1191.2 L654.4,1191.2 L649.7,1199.8Z" fill="#006400"/>
<path d="M652.9,1191.9 L662.3,1191.9 L657.6,1200.5Z" fill="#006400"/>
<path d="M660.8,1192.4 L670.2,1192.4 L665.5,1201.0Z" fill="#006400"/>
<path d="M668.7,1192.6 L678.1,1192.6 L673.4,1201.2Z" fill="#006400"/>
<path d="M676.7,1192.1 L686.1,1192.1 L681.4,1200.7Z" fill="#006400"/>
<path d="M684.6,1191.1 L694.0,1191.1 L689.3,1199.7Z" fill="#006400"/>
<path d="M692.5,1189.8 L701.9,1189.8 L697.2,1198.4Z" fill="#006400"/>
<path d="M700.4,1187.8 L709.8,1187.8 L705.1,1196.4Z" fill="#006400"/>
<path d="M708.4,1185.0 L717.8,1185.0 L713.1,1193.6Z" fill="#006400"/>
<path d="M716.3,1182.4 L725.7,1182.4 L721.0,1191.0Z" fill="#006400"/>
<path d="M724.2,1179.7 L733.6,1179.7 L728.9,1188.3Z" fill="#006400"/>
<path d="M732.1,1175.4 L741.5,1175.4 L736.8,1184.0Z" fill="#006400"/>
<path d="M740.1,1168.9 L749.5,1168.9 L744.8,1177.5Z" fill="#006400"/>
<path d="M748.0,1162.0 L757.4,1162.0 L752.7,1170.6Z" fill="#006400"/>
<path d="M755.9,1152.4 L765.3,1152.4 L760.6,1161.0Z" fill="#006400"/>
<path d="M763.8,1144.6 L773.2,1144.6 L768.5,1153.2Z" fill="#006400"/>
</svg></body></html>
